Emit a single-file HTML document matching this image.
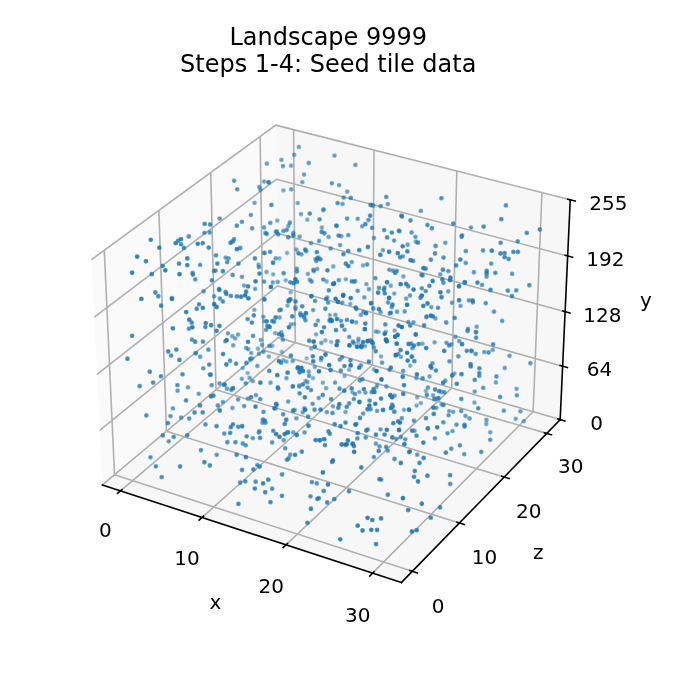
<!DOCTYPE html>
<html lang="en"><head><meta charset="utf-8"><title>Landscape 9999 - Steps 1-4: Seed tile data</title>
<style>
html,body{margin:0;padding:0;background:#fff}
body{width:676px;height:692px;overflow:hidden;position:relative;font-family:"DejaVu Sans","Liberation Sans",sans-serif}
svg{will-change:transform;position:absolute;left:0.0px;top:0.7px;display:block}
</style></head><body>
<svg width="676.8" height="691.2" viewBox="0 0 338.4 345.6"><defs><style>circle{r:0.7071px}*{stroke-linejoin: round; stroke-linecap: butt}</style></defs><g id="figure_1"><g id="patch_1"><path d="M 0 345.6 L 338.4 345.6 L 338.4 0 L 0 0 z " style="fill: #ffffff"/></g><g id="patch_2"><path d="M 31.104 307.584 L 297.216 307.584 L 297.216 41.472 L 31.104 41.472 z " style="fill: #ffffff"/></g><g id="pane3d_1"><g id="patch_3"><path d="M 51.197 241.969 L 139.076 168.307 L 137.854 62.073 L 45.770 129.272 " style="fill: #fafafa; stroke: #fafafa; stroke-linejoin: miter"/></g></g><g id="pane3d_2"><g id="patch_4"><path d="M 139.076 168.307 L 280.090 209.294 L 285.122 99.402 L 137.854 62.073 " style="fill: #f7f7f7; stroke: #f7f7f7; stroke-linejoin: miter"/></g></g><g id="pane3d_3"><g id="patch_5"><path d="M 51.197 241.969 L 200.679 290.790 L 280.090 209.294 L 139.076 168.307 " style="fill: #f7f7f7; stroke: #f7f7f7; stroke-linejoin: miter"/></g></g><g id="grid3d_1"><g id="Line3DCollection_1"><path d="M 60.250 244.926 L 147.652 170.800 L 146.793 64.339 " style="fill: none; stroke: #b0b0b0; stroke-width: 0.8"/><path d="M 101.025 258.243 L 186.220 182.010 L 187.020 74.536 " style="fill: none; stroke: #b0b0b0; stroke-width: 0.8"/><path d="M 143.019 271.958 L 225.844 193.527 L 228.397 85.023 " style="fill: none; stroke: #b0b0b0; stroke-width: 0.8"/><path d="M 186.286 286.089 L 266.567 205.364 L 270.973 95.815 " style="fill: none; stroke: #b0b0b0; stroke-width: 0.8"/></g></g><g id="grid3d_2"><g id="Line3DCollection_2"><path d="M 52.138 124.625 L 57.252 236.893 L 206.173 285.151 " style="fill: none; stroke: #b0b0b0; stroke-width: 0.8"/><path d="M 79.431 104.708 L 83.244 215.106 L 229.719 260.987 " style="fill: none; stroke: #b0b0b0; stroke-width: 0.8"/><path d="M 105.373 85.777 L 108.002 194.354 L 252.090 238.029 " style="fill: none; stroke: #b0b0b0; stroke-width: 0.8"/><path d="M 130.061 67.761 L 131.612 174.563 L 273.373 216.187 " style="fill: none; stroke: #b0b0b0; stroke-width: 0.8"/></g></g><g id="grid3d_3"><g id="Line3DCollection_3"><path d="M 280.090 209.294 L 139.076 168.307 L 51.197 241.969 " style="fill: none; stroke: #b0b0b0; stroke-width: 0.8"/><path d="M 281.312 182.609 L 138.779 142.469 L 49.881 214.637 " style="fill: none; stroke: #b0b0b0; stroke-width: 0.8"/><path d="M 282.561 155.336 L 138.475 116.090 L 48.534 186.682 " style="fill: none; stroke: #b0b0b0; stroke-width: 0.8"/><path d="M 283.837 127.457 L 138.165 89.152 L 47.157 158.080 " style="fill: none; stroke: #b0b0b0; stroke-width: 0.8"/><path d="M 285.122 99.402 L 137.854 62.073 L 45.770 129.272 " style="fill: none; stroke: #b0b0b0; stroke-width: 0.8"/></g></g><g id="axis3d_1"><g id="line2d_1"><path d="M 51.197 241.969 L 200.679 290.790 " style="fill: none; stroke: #000000; stroke-width: 0.8; stroke-linecap: square"/></g><g id="xtick_1"><g id="line2d_2"><path d="M 61.011 244.280 L 58.725 246.219 " style="fill: none; stroke: #000000; stroke-width: 0.8; stroke-linecap: square"/></g><g id="text_1"><text style="font-size: 10px; font-family: 'DejaVu Sans', 'Liberation Sans', sans-serif; text-anchor: middle" x="52.721" y="268.235">0</text></g></g><g id="xtick_2"><g id="line2d_3"><path d="M 101.768 257.578 L 99.536 259.575 " style="fill: none; stroke: #000000; stroke-width: 0.8; stroke-linecap: square"/></g><g id="text_2"><text style="font-size: 10px; font-family: 'DejaVu Sans', 'Liberation Sans', sans-serif; text-anchor: middle" x="93.539" y="281.834">10</text></g></g><g id="xtick_3"><g id="line2d_4"><path d="M 143.742 271.273 L 141.570 273.330 " style="fill: none; stroke: #000000; stroke-width: 0.8; stroke-linecap: square"/></g><g id="text_3"><text style="font-size: 10px; font-family: 'DejaVu Sans', 'Liberation Sans', sans-serif; text-anchor: middle" x="135.581" y="295.842">20</text></g></g><g id="xtick_4"><g id="line2d_5"><path d="M 186.988 285.384 L 184.880 287.503 " style="fill: none; stroke: #000000; stroke-width: 0.8; stroke-linecap: square"/></g><g id="text_4"><text style="font-size: 10px; font-family: 'DejaVu Sans', 'Liberation Sans', sans-serif; text-anchor: middle" x="178.903" y="310.276">30</text></g></g><g id="text_5"><text style="font-size: 10px; font-family: 'DejaVu Sans', 'Liberation Sans', sans-serif; text-anchor: middle" x="107.676" y="303.767">x</text></g></g><g id="axis3d_2"><g id="line2d_6"><path d="M 280.090 209.294 L 200.679 290.790 " style="fill: none; stroke: #000000; stroke-width: 0.8; stroke-linecap: square"/></g><g id="xtick_5"><g id="line2d_7"><path d="M 204.918 284.744 L 208.687 285.965 " style="fill: none; stroke: #000000; stroke-width: 0.8; stroke-linecap: square"/></g><g id="text_6"><text style="font-size: 10px; font-family: 'DejaVu Sans', 'Liberation Sans', sans-serif; text-anchor: middle" x="219.054" y="306.173">0</text></g></g><g id="xtick_6"><g id="line2d_8"><path d="M 228.486 260.601 L 232.188 261.760 " style="fill: none; stroke: #000000; stroke-width: 0.8; stroke-linecap: square"/></g><g id="text_7"><text style="font-size: 10px; font-family: 'DejaVu Sans', 'Liberation Sans', sans-serif; text-anchor: middle" x="242.284" y="281.651">10</text></g></g><g id="xtick_7"><g id="line2d_9"><path d="M 250.879 237.661 L 254.516 238.764 " style="fill: none; stroke: #000000; stroke-width: 0.8; stroke-linecap: square"/></g><g id="text_8"><text style="font-size: 10px; font-family: 'DejaVu Sans', 'Liberation Sans', sans-serif; text-anchor: middle" x="264.354" y="258.354">20</text></g></g><g id="xtick_8"><g id="line2d_10"><path d="M 272.183 215.838 L 275.756 216.887 " style="fill: none; stroke: #000000; stroke-width: 0.8; stroke-linecap: square"/></g><g id="text_9"><text style="font-size: 10px; font-family: 'DejaVu Sans', 'Liberation Sans', sans-serif; text-anchor: middle" x="285.350" y="236.190">30</text></g></g><g id="text_10"><text style="font-size: 10px; font-family: 'DejaVu Sans', 'Liberation Sans', sans-serif; text-anchor: middle" x="269.132" y="278.988">z</text></g></g><g id="axis3d_3"><g id="line2d_11"><path d="M 280.090 209.294 L 285.122 99.402 " style="fill: none; stroke: #000000; stroke-width: 0.8; stroke-linecap: square"/></g><g id="xtick_9"><g id="line2d_12"><path d="M 278.906 208.950 L 282.460 209.983 " style="fill: none; stroke: #000000; stroke-width: 0.8; stroke-linecap: square"/></g><g id="text_11"><text style="font-size: 10px; font-family: 'DejaVu Sans', 'Liberation Sans', sans-serif; text-anchor: middle" x="298.339" y="214.288">0</text></g></g><g id="xtick_10"><g id="line2d_13"><path d="M 280.115 182.272 L 283.708 183.284 " style="fill: none; stroke: #000000; stroke-width: 0.8; stroke-linecap: square"/></g><g id="text_12"><text style="font-size: 10px; font-family: 'DejaVu Sans', 'Liberation Sans', sans-serif; text-anchor: middle" x="299.755" y="187.655">64</text></g></g><g id="xtick_11"><g id="line2d_14"><path d="M 281.350 155.007 L 284.985 155.997 " style="fill: none; stroke: #000000; stroke-width: 0.8; stroke-linecap: square"/></g><g id="text_13"><text style="font-size: 10px; font-family: 'DejaVu Sans', 'Liberation Sans', sans-serif; text-anchor: middle" x="301.202" y="160.438">128</text></g></g><g id="xtick_12"><g id="line2d_15"><path d="M 282.613 127.135 L 286.289 128.102 " style="fill: none; stroke: #000000; stroke-width: 0.8; stroke-linecap: square"/></g><g id="text_14"><text style="font-size: 10px; font-family: 'DejaVu Sans', 'Liberation Sans', sans-serif; text-anchor: middle" x="302.681" y="132.618">192</text></g></g><g id="xtick_13"><g id="line2d_16"><path d="M 283.884 99.088 L 287.602 100.030 " style="fill: none; stroke: #000000; stroke-width: 0.8; stroke-linecap: square"/></g><g id="text_15"><text style="font-size: 10px; font-family: 'DejaVu Sans', 'Liberation Sans', sans-serif; text-anchor: middle" x="304.170" y="104.623">255</text></g></g><g id="text_16"><text style="font-size: 10px; font-family: 'DejaVu Sans', 'Liberation Sans', sans-serif; text-anchor: middle" x="322.927" y="152.902">y</text></g></g><g id="axes_1"><g id="pts" fill="#1f77b4" stroke="#1f77b4" stroke-width="1"><circle cx="155.57" cy="173.91" r=".707" fill-opacity="0.35" stroke-opacity="0.35"/><circle cx="153.31" cy="178.72" r=".707" fill-opacity="0.355" stroke-opacity="0.355"/><circle cx="165.61" cy="170.55" r=".707" fill-opacity="0.357" stroke-opacity="0.357"/><circle cx="137.68" cy="158.32" r=".707" fill-opacity="0.358" stroke-opacity="0.358"/><circle cx="140.90" cy="175.50" r=".707" fill-opacity="0.37" stroke-opacity="0.37"/><circle cx="156.54" cy="188.64" r=".707" fill-opacity="0.378" stroke-opacity="0.378"/><circle cx="146.99" cy="161.54" r=".707" fill-opacity="0.386" stroke-opacity="0.386"/><circle cx="126.11" cy="178.73" r=".707" fill-opacity="0.387" stroke-opacity="0.387"/><circle cx="123.83" cy="186.04" r=".707" fill-opacity="0.388" stroke-opacity="0.388"/><circle cx="186.92" cy="184.26" r=".707" fill-opacity="0.39" stroke-opacity="0.39"/><circle cx="145.30" cy="145.68" r=".707" fill-opacity="0.392" stroke-opacity="0.392"/><circle cx="139.70" cy="128.69" r=".707" fill-opacity="0.392" stroke-opacity="0.392"/><circle cx="168.92" cy="170.18" r=".707" fill-opacity="0.396" stroke-opacity="0.396"/><circle cx="179.08" cy="170.48" r=".707" fill-opacity="0.397" stroke-opacity="0.397"/><circle cx="188.63" cy="191.93" r=".707" fill-opacity="0.398" stroke-opacity="0.398"/><circle cx="160.42" cy="179.57" r=".707" fill-opacity="0.399" stroke-opacity="0.399"/><circle cx="136.15" cy="172.47" r=".707" fill-opacity="0.399" stroke-opacity="0.399"/><circle cx="174.53" cy="184.32" r=".707" fill-opacity="0.4" stroke-opacity="0.4"/><circle cx="162.69" cy="169.77" r=".707" fill-opacity="0.402" stroke-opacity="0.402"/><circle cx="176.20" cy="195.69" r=".707" fill-opacity="0.402" stroke-opacity="0.402"/><circle cx="143.56" cy="125.99" r=".707" fill-opacity="0.403" stroke-opacity="0.403"/><circle cx="212.97" cy="194.95" r=".707" fill-opacity="0.404" stroke-opacity="0.404"/><circle cx="121.36" cy="183.54" r=".707" fill-opacity="0.405" stroke-opacity="0.405"/><circle cx="157.67" cy="129.04" r=".707" fill-opacity="0.407" stroke-opacity="0.407"/><circle cx="189.29" cy="165.42" r=".707" fill-opacity="0.407" stroke-opacity="0.407"/><circle cx="172.26" cy="187.56" r=".707" fill-opacity="0.408" stroke-opacity="0.408"/><circle cx="149.60" cy="192.23" r=".707" fill-opacity="0.409" stroke-opacity="0.409"/><circle cx="205.12" cy="182.38" r=".707" fill-opacity="0.409" stroke-opacity="0.409"/><circle cx="164.97" cy="157.05" r=".707" fill-opacity="0.409" stroke-opacity="0.409"/><circle cx="132.09" cy="160.17" r=".707" fill-opacity="0.411" stroke-opacity="0.411"/><circle cx="142.89" cy="139.66" r=".707" fill-opacity="0.413" stroke-opacity="0.413"/><circle cx="141.65" cy="179.64" r=".707" fill-opacity="0.414" stroke-opacity="0.414"/><circle cx="163.29" cy="140.25" r=".707" fill-opacity="0.416" stroke-opacity="0.416"/><circle cx="125.16" cy="179.35" r=".707" fill-opacity="0.418" stroke-opacity="0.418"/><circle cx="175.18" cy="151.52" r=".707" fill-opacity="0.42" stroke-opacity="0.42"/><circle cx="197.31" cy="164.79" r=".707" fill-opacity="0.423" stroke-opacity="0.423"/><circle cx="136.56" cy="136.69" r=".707" fill-opacity="0.423" stroke-opacity="0.423"/><circle cx="208.61" cy="198.21" r=".707" fill-opacity="0.424" stroke-opacity="0.424"/><circle cx="159.30" cy="128.22" r=".707" fill-opacity="0.428" stroke-opacity="0.428"/><circle cx="188.18" cy="193.06" r=".707" fill-opacity="0.428" stroke-opacity="0.428"/><circle cx="139.88" cy="158.27" r=".707" fill-opacity="0.428" stroke-opacity="0.428"/><circle cx="137.58" cy="166.07" r=".707" fill-opacity="0.429" stroke-opacity="0.429"/><circle cx="157.00" cy="135.17" r=".707" fill-opacity="0.429" stroke-opacity="0.429"/><circle cx="153.64" cy="109.37" r=".707" fill-opacity="0.43" stroke-opacity="0.43"/><circle cx="158.06" cy="166.68" r=".707" fill-opacity="0.432" stroke-opacity="0.432"/><circle cx="141.70" cy="94.69" r=".707" fill-opacity="0.432" stroke-opacity="0.432"/><circle cx="161.42" cy="190.82" r=".707" fill-opacity="0.433" stroke-opacity="0.433"/><circle cx="143.21" cy="180.32" r=".707" fill-opacity="0.433" stroke-opacity="0.433"/><circle cx="182.54" cy="172.60" r=".707" fill-opacity="0.433" stroke-opacity="0.433"/><circle cx="128.97" cy="173.88" r=".707" fill-opacity="0.434" stroke-opacity="0.434"/><circle cx="157.43" cy="183.04" r=".707" fill-opacity="0.438" stroke-opacity="0.438"/><circle cx="210.46" cy="201.05" r=".707" fill-opacity="0.439" stroke-opacity="0.439"/><circle cx="190.54" cy="177.81" r=".707" fill-opacity="0.44" stroke-opacity="0.44"/><circle cx="220.74" cy="201.78" r=".707" fill-opacity="0.44" stroke-opacity="0.44"/><circle cx="179.66" cy="195.56" r=".707" fill-opacity="0.442" stroke-opacity="0.442"/><circle cx="181.52" cy="132.21" r=".707" fill-opacity="0.445" stroke-opacity="0.445"/><circle cx="127.17" cy="154.48" r=".707" fill-opacity="0.445" stroke-opacity="0.445"/><circle cx="143.75" cy="152.28" r=".707" fill-opacity="0.445" stroke-opacity="0.445"/><circle cx="192.88" cy="165.40" r=".707" fill-opacity="0.447" stroke-opacity="0.447"/><circle cx="163.08" cy="193.64" r=".707" fill-opacity="0.449" stroke-opacity="0.449"/><circle cx="183.22" cy="141.58" r=".707" fill-opacity="0.45" stroke-opacity="0.45"/><circle cx="208.27" cy="202.29" r=".707" fill-opacity="0.45" stroke-opacity="0.45"/><circle cx="145.41" cy="161.67" r=".707" fill-opacity="0.45" stroke-opacity="0.45"/><circle cx="158.63" cy="133.95" r=".707" fill-opacity="0.451" stroke-opacity="0.451"/><circle cx="147.71" cy="152.99" r=".707" fill-opacity="0.451" stroke-opacity="0.451"/><circle cx="172.93" cy="139.17" r=".707" fill-opacity="0.452" stroke-opacity="0.452"/><circle cx="161.56" cy="104.66" r=".707" fill-opacity="0.452" stroke-opacity="0.452"/><circle cx="151.71" cy="157.06" r=".707" fill-opacity="0.452" stroke-opacity="0.452"/><circle cx="201.98" cy="204.41" r=".707" fill-opacity="0.452" stroke-opacity="0.452"/><circle cx="138.64" cy="109.79" r=".707" fill-opacity="0.452" stroke-opacity="0.452"/><circle cx="152.77" cy="190.01" r=".707" fill-opacity="0.452" stroke-opacity="0.452"/><circle cx="211.24" cy="171.35" r=".707" fill-opacity="0.454" stroke-opacity="0.454"/><circle cx="137.84" cy="203.73" r=".707" fill-opacity="0.454" stroke-opacity="0.454"/><circle cx="116.15" cy="167.64" r=".707" fill-opacity="0.455" stroke-opacity="0.455"/><circle cx="134.45" cy="177.79" r=".707" fill-opacity="0.455" stroke-opacity="0.455"/><circle cx="176.94" cy="140.28" r=".707" fill-opacity="0.457" stroke-opacity="0.457"/><circle cx="145.53" cy="82.37" r=".707" fill-opacity="0.458" stroke-opacity="0.458"/><circle cx="124.10" cy="174.14" r=".707" fill-opacity="0.459" stroke-opacity="0.459"/><circle cx="130.40" cy="169.52" r=".707" fill-opacity="0.461" stroke-opacity="0.461"/><circle cx="225.67" cy="171.57" r=".707" fill-opacity="0.463" stroke-opacity="0.463"/><circle cx="152.11" cy="203.61" r=".707" fill-opacity="0.464" stroke-opacity="0.464"/><circle cx="148.27" cy="124.30" r=".707" fill-opacity="0.464" stroke-opacity="0.464"/><circle cx="172.78" cy="205.49" r=".707" fill-opacity="0.465" stroke-opacity="0.465"/><circle cx="166.62" cy="132.76" r=".707" fill-opacity="0.467" stroke-opacity="0.467"/><circle cx="148.87" cy="101.06" r=".707" fill-opacity="0.468" stroke-opacity="0.468"/><circle cx="261.87" cy="210.09" r=".707" fill-opacity="0.468" stroke-opacity="0.468"/><circle cx="129.26" cy="131.83" r=".707" fill-opacity="0.468" stroke-opacity="0.468"/><circle cx="214.78" cy="187.75" r=".707" fill-opacity="0.468" stroke-opacity="0.468"/><circle cx="217.73" cy="158.77" r=".707" fill-opacity="0.468" stroke-opacity="0.468"/><circle cx="140.67" cy="165.64" r=".707" fill-opacity="0.469" stroke-opacity="0.469"/><circle cx="133.26" cy="135.49" r=".707" fill-opacity="0.469" stroke-opacity="0.469"/><circle cx="195.35" cy="142.38" r=".707" fill-opacity="0.47" stroke-opacity="0.47"/><circle cx="160.91" cy="113.30" r=".707" fill-opacity="0.47" stroke-opacity="0.47"/><circle cx="180.37" cy="157.00" r=".707" fill-opacity="0.471" stroke-opacity="0.471"/><circle cx="237.23" cy="200.79" r=".707" fill-opacity="0.471" stroke-opacity="0.471"/><circle cx="151.17" cy="90.59" r=".707" fill-opacity="0.471" stroke-opacity="0.471"/><circle cx="153.94" cy="136.51" r=".707" fill-opacity="0.472" stroke-opacity="0.472"/><circle cx="201.70" cy="137.74" r=".707" fill-opacity="0.472" stroke-opacity="0.472"/><circle cx="216.54" cy="197.24" r=".707" fill-opacity="0.473" stroke-opacity="0.473"/><circle cx="117.60" cy="168.70" r=".707" fill-opacity="0.473" stroke-opacity="0.473"/><circle cx="146.35" cy="180.04" r=".707" fill-opacity="0.474" stroke-opacity="0.474"/><circle cx="200.48" cy="177.91" r=".707" fill-opacity="0.474" stroke-opacity="0.474"/><circle cx="166.45" cy="202.65" r=".707" fill-opacity="0.475" stroke-opacity="0.475"/><circle cx="134.45" cy="90.64" r=".707" fill-opacity="0.475" stroke-opacity="0.475"/><circle cx="144.19" cy="112.51" r=".707" fill-opacity="0.475" stroke-opacity="0.475"/><circle cx="224.61" cy="205.04" r=".707" fill-opacity="0.475" stroke-opacity="0.475"/><circle cx="137.85" cy="115.45" r=".707" fill-opacity="0.476" stroke-opacity="0.476"/><circle cx="125.61" cy="176.06" r=".707" fill-opacity="0.476" stroke-opacity="0.476"/><circle cx="178.06" cy="160.67" r=".707" fill-opacity="0.477" stroke-opacity="0.477"/><circle cx="150.52" cy="106.56" r=".707" fill-opacity="0.479" stroke-opacity="0.479"/><circle cx="149.44" cy="72.96" r=".707" fill-opacity="0.479" stroke-opacity="0.479"/><circle cx="154.37" cy="185.32" r=".707" fill-opacity="0.48" stroke-opacity="0.48"/><circle cx="194.80" cy="156.33" r=".707" fill-opacity="0.481" stroke-opacity="0.481"/><circle cx="120.90" cy="188.93" r=".707" fill-opacity="0.481" stroke-opacity="0.481"/><circle cx="167.70" cy="156.98" r=".707" fill-opacity="0.481" stroke-opacity="0.481"/><circle cx="243.15" cy="211.52" r=".707" fill-opacity="0.482" stroke-opacity="0.482"/><circle cx="217.28" cy="170.65" r=".707" fill-opacity="0.482" stroke-opacity="0.482"/><circle cx="129.56" cy="176.39" r=".707" fill-opacity="0.483" stroke-opacity="0.483"/><circle cx="220.70" cy="195.52" r=".707" fill-opacity="0.483" stroke-opacity="0.483"/><circle cx="116.22" cy="203.50" r=".707" fill-opacity="0.484" stroke-opacity="0.484"/><circle cx="197.15" cy="146.30" r=".707" fill-opacity="0.484" stroke-opacity="0.484"/><circle cx="147.08" cy="76.93" r=".707" fill-opacity="0.485" stroke-opacity="0.485"/><circle cx="169.57" cy="92.10" r=".707" fill-opacity="0.485" stroke-opacity="0.485"/><circle cx="258.28" cy="193.94" r=".707" fill-opacity="0.486" stroke-opacity="0.486"/><circle cx="140.71" cy="79.43" r=".707" fill-opacity="0.487" stroke-opacity="0.487"/><circle cx="173.60" cy="95.33" r=".707" fill-opacity="0.488" stroke-opacity="0.488"/><circle cx="135.26" cy="190.86" r=".707" fill-opacity="0.488" stroke-opacity="0.488"/><circle cx="132.02" cy="90.29" r=".707" fill-opacity="0.488" stroke-opacity="0.488"/><circle cx="163.66" cy="148.21" r=".707" fill-opacity="0.488" stroke-opacity="0.488"/><circle cx="147.36" cy="204.47" r=".707" fill-opacity="0.488" stroke-opacity="0.488"/><circle cx="227.76" cy="168.01" r=".707" fill-opacity="0.489" stroke-opacity="0.489"/><circle cx="138.83" cy="140.51" r=".707" fill-opacity="0.489" stroke-opacity="0.489"/><circle cx="122.06" cy="142.31" r=".707" fill-opacity="0.489" stroke-opacity="0.489"/><circle cx="124.84" cy="188.45" r=".707" fill-opacity="0.489" stroke-opacity="0.489"/><circle cx="247.95" cy="190.70" r=".707" fill-opacity="0.489" stroke-opacity="0.489"/><circle cx="215.67" cy="153.13" r=".707" fill-opacity="0.49" stroke-opacity="0.49"/><circle cx="171.27" cy="101.51" r=".707" fill-opacity="0.49" stroke-opacity="0.49"/><circle cx="191.46" cy="124.62" r=".707" fill-opacity="0.491" stroke-opacity="0.491"/><circle cx="218.47" cy="198.86" r=".707" fill-opacity="0.491" stroke-opacity="0.491"/><circle cx="227.19" cy="186.29" r=".707" fill-opacity="0.493" stroke-opacity="0.493"/><circle cx="123.10" cy="173.46" r=".707" fill-opacity="0.493" stroke-opacity="0.493"/><circle cx="149.83" cy="117.85" r=".707" fill-opacity="0.494" stroke-opacity="0.494"/><circle cx="151.37" cy="205.68" r=".707" fill-opacity="0.494" stroke-opacity="0.494"/><circle cx="149.66" cy="192.79" r=".707" fill-opacity="0.494" stroke-opacity="0.494"/><circle cx="112.03" cy="191.87" r=".707" fill-opacity="0.495" stroke-opacity="0.495"/><circle cx="158.99" cy="159.80" r=".707" fill-opacity="0.495" stroke-opacity="0.495"/><circle cx="246.36" cy="174.45" r=".707" fill-opacity="0.495" stroke-opacity="0.495"/><circle cx="226.61" cy="205.44" r=".707" fill-opacity="0.495" stroke-opacity="0.495"/><circle cx="213.41" cy="157.66" r=".707" fill-opacity="0.496" stroke-opacity="0.496"/><circle cx="257.87" cy="208.92" r=".707" fill-opacity="0.496" stroke-opacity="0.496"/><circle cx="245.12" cy="215.69" r=".707" fill-opacity="0.496" stroke-opacity="0.496"/><circle cx="129.61" cy="92.98" r=".707" fill-opacity="0.496" stroke-opacity="0.496"/><circle cx="127.27" cy="100.91" r=".707" fill-opacity="0.496" stroke-opacity="0.496"/><circle cx="119.02" cy="166.81" r=".707" fill-opacity="0.496" stroke-opacity="0.496"/><circle cx="112.64" cy="170.20" r=".707" fill-opacity="0.496" stroke-opacity="0.496"/><circle cx="160.69" cy="171.01" r=".707" fill-opacity="0.498" stroke-opacity="0.498"/><circle cx="170.66" cy="117.58" r=".707" fill-opacity="0.498" stroke-opacity="0.498"/><circle cx="184.50" cy="144.12" r=".707" fill-opacity="0.498" stroke-opacity="0.498"/><circle cx="238.34" cy="162.82" r=".707" fill-opacity="0.499" stroke-opacity="0.499"/><circle cx="185.75" cy="102.00" r=".707" fill-opacity="0.499" stroke-opacity="0.499"/><circle cx="131.74" cy="157.91" r=".707" fill-opacity="0.5" stroke-opacity="0.5"/><circle cx="230.27" cy="152.45" r=".707" fill-opacity="0.5" stroke-opacity="0.5"/><circle cx="116.63" cy="172.21" r=".707" fill-opacity="0.501" stroke-opacity="0.501"/><circle cx="136.40" cy="140.75" r=".707" fill-opacity="0.501" stroke-opacity="0.501"/><circle cx="144.49" cy="149.42" r=".707" fill-opacity="0.502" stroke-opacity="0.502"/><circle cx="164.27" cy="117.94" r=".707" fill-opacity="0.503" stroke-opacity="0.503"/><circle cx="146.65" cy="215.74" r=".707" fill-opacity="0.504" stroke-opacity="0.504"/><circle cx="182.19" cy="148.22" r=".707" fill-opacity="0.505" stroke-opacity="0.505"/><circle cx="153.66" cy="190.64" r=".707" fill-opacity="0.505" stroke-opacity="0.505"/><circle cx="187.95" cy="165.28" r=".707" fill-opacity="0.505" stroke-opacity="0.505"/><circle cx="208.21" cy="188.49" r=".707" fill-opacity="0.506" stroke-opacity="0.506"/><circle cx="143.21" cy="188.63" r=".707" fill-opacity="0.506" stroke-opacity="0.506"/><circle cx="124.03" cy="198.83" r=".707" fill-opacity="0.506" stroke-opacity="0.506"/><circle cx="128.71" cy="182.49" r=".707" fill-opacity="0.507" stroke-opacity="0.507"/><circle cx="126.36" cy="190.03" r=".707" fill-opacity="0.508" stroke-opacity="0.508"/><circle cx="181.11" cy="112.68" r=".707" fill-opacity="0.508" stroke-opacity="0.508"/><circle cx="203.09" cy="148.83" r=".707" fill-opacity="0.508" stroke-opacity="0.508"/><circle cx="190.31" cy="155.63" r=".707" fill-opacity="0.508" stroke-opacity="0.508"/><circle cx="129.78" cy="215.07" r=".707" fill-opacity="0.508" stroke-opacity="0.508"/><circle cx="105.45" cy="186.87" r=".707" fill-opacity="0.509" stroke-opacity="0.509"/><circle cx="252.39" cy="183.49" r=".707" fill-opacity="0.509" stroke-opacity="0.509"/><circle cx="131.01" cy="172.00" r=".707" fill-opacity="0.51" stroke-opacity="0.51"/><circle cx="113.51" cy="193.89" r=".707" fill-opacity="0.512" stroke-opacity="0.512"/><circle cx="226.25" cy="215.07" r=".707" fill-opacity="0.514" stroke-opacity="0.514"/><circle cx="237.35" cy="195.31" r=".707" fill-opacity="0.514" stroke-opacity="0.514"/><circle cx="193.94" cy="101.53" r=".707" fill-opacity="0.514" stroke-opacity="0.514"/><circle cx="127.55" cy="143.96" r=".707" fill-opacity="0.514" stroke-opacity="0.514"/><circle cx="177.70" cy="81.97" r=".707" fill-opacity="0.516" stroke-opacity="0.516"/><circle cx="155.51" cy="121.08" r=".707" fill-opacity="0.516" stroke-opacity="0.516"/><circle cx="182.69" cy="195.79" r=".707" fill-opacity="0.516" stroke-opacity="0.516"/><circle cx="156.59" cy="154.56" r=".707" fill-opacity="0.516" stroke-opacity="0.516"/><circle cx="141.43" cy="169.35" r=".707" fill-opacity="0.517" stroke-opacity="0.517"/><circle cx="163.46" cy="205.58" r=".707" fill-opacity="0.517" stroke-opacity="0.517"/><circle cx="127.98" cy="197.10" r=".707" fill-opacity="0.517" stroke-opacity="0.517"/><circle cx="203.81" cy="121.89" r=".707" fill-opacity="0.517" stroke-opacity="0.517"/><circle cx="218.18" cy="203.43" r=".707" fill-opacity="0.517" stroke-opacity="0.517"/><circle cx="224.13" cy="145.16" r=".707" fill-opacity="0.517" stroke-opacity="0.517"/><circle cx="179.26" cy="169.00" r=".707" fill-opacity="0.518" stroke-opacity="0.518"/><circle cx="168.32" cy="112.54" r=".707" fill-opacity="0.519" stroke-opacity="0.519"/><circle cx="150.17" cy="156.26" r=".707" fill-opacity="0.519" stroke-opacity="0.519"/><circle cx="243.22" cy="209.49" r=".707" fill-opacity="0.519" stroke-opacity="0.519"/><circle cx="242.14" cy="175.56" r=".707" fill-opacity="0.519" stroke-opacity="0.519"/><circle cx="139.69" cy="154.67" r=".707" fill-opacity="0.52" stroke-opacity="0.52"/><circle cx="154.87" cy="139.44" r=".707" fill-opacity="0.52" stroke-opacity="0.52"/><circle cx="232.77" cy="207.49" r=".707" fill-opacity="0.52" stroke-opacity="0.52"/><circle cx="199.77" cy="115.15" r=".707" fill-opacity="0.52" stroke-opacity="0.52"/><circle cx="159.39" cy="198.49" r=".707" fill-opacity="0.521" stroke-opacity="0.521"/><circle cx="201.49" cy="127.70" r=".707" fill-opacity="0.521" stroke-opacity="0.521"/><circle cx="167.23" cy="77.28" r=".707" fill-opacity="0.521" stroke-opacity="0.521"/><circle cx="133.43" cy="81.34" r=".707" fill-opacity="0.521" stroke-opacity="0.521"/><circle cx="153.14" cy="125.16" r=".707" fill-opacity="0.522" stroke-opacity="0.522"/><circle cx="260.20" cy="205.16" r=".707" fill-opacity="0.523" stroke-opacity="0.523"/><circle cx="164.72" cy="159.86" r=".707" fill-opacity="0.523" stroke-opacity="0.523"/><circle cx="193.20" cy="192.74" r=".707" fill-opacity="0.523" stroke-opacity="0.523"/><circle cx="198.53" cy="155.37" r=".707" fill-opacity="0.523" stroke-opacity="0.523"/><circle cx="197.27" cy="197.32" r=".707" fill-opacity="0.523" stroke-opacity="0.523"/><circle cx="113.99" cy="166.17" r=".707" fill-opacity="0.523" stroke-opacity="0.523"/><circle cx="145.62" cy="94.17" r=".707" fill-opacity="0.523" stroke-opacity="0.523"/><circle cx="220.14" cy="136.72" r=".707" fill-opacity="0.523" stroke-opacity="0.523"/><circle cx="170.04" cy="122.05" r=".707" fill-opacity="0.524" stroke-opacity="0.524"/><circle cx="141.84" cy="219.62" r=".707" fill-opacity="0.524" stroke-opacity="0.524"/><circle cx="159.55" cy="120.02" r=".707" fill-opacity="0.525" stroke-opacity="0.525"/><circle cx="235.83" cy="175.15" r=".707" fill-opacity="0.526" stroke-opacity="0.526"/><circle cx="154.39" cy="81.02" r=".707" fill-opacity="0.526" stroke-opacity="0.526"/><circle cx="186.97" cy="118.50" r=".707" fill-opacity="0.526" stroke-opacity="0.526"/><circle cx="178.82" cy="108.91" r=".707" fill-opacity="0.526" stroke-opacity="0.526"/><circle cx="181.64" cy="155.47" r=".707" fill-opacity="0.526" stroke-opacity="0.526"/><circle cx="207.97" cy="120.39" r=".707" fill-opacity="0.527" stroke-opacity="0.527"/><circle cx="176.93" cy="171.04" r=".707" fill-opacity="0.528" stroke-opacity="0.528"/><circle cx="213.15" cy="158.12" r=".707" fill-opacity="0.528" stroke-opacity="0.528"/><circle cx="226.01" cy="150.86" r=".707" fill-opacity="0.529" stroke-opacity="0.529"/><circle cx="169.42" cy="139.58" r=".707" fill-opacity="0.529" stroke-opacity="0.529"/><circle cx="120.97" cy="137.91" r=".707" fill-opacity="0.529" stroke-opacity="0.529"/><circle cx="152.02" cy="86.81" r=".707" fill-opacity="0.529" stroke-opacity="0.529"/><circle cx="188.54" cy="204.95" r=".707" fill-opacity="0.53" stroke-opacity="0.53"/><circle cx="206.74" cy="160.68" r=".707" fill-opacity="0.53" stroke-opacity="0.53"/><circle cx="112.81" cy="128.31" r=".707" fill-opacity="0.53" stroke-opacity="0.53"/><circle cx="93.97" cy="193.17" r=".707" fill-opacity="0.53" stroke-opacity="0.53"/><circle cx="205.02" cy="147.24" r=".707" fill-opacity="0.531" stroke-opacity="0.531"/><circle cx="207.21" cy="214.87" r=".707" fill-opacity="0.531" stroke-opacity="0.531"/><circle cx="185.27" cy="102.00" r=".707" fill-opacity="0.532" stroke-opacity="0.532"/><circle cx="171.14" cy="150.88" r=".707" fill-opacity="0.532" stroke-opacity="0.532"/><circle cx="119.04" cy="199.25" r=".707" fill-opacity="0.532" stroke-opacity="0.532"/><circle cx="152.30" cy="215.77" r=".707" fill-opacity="0.532" stroke-opacity="0.532"/><circle cx="150.74" cy="126.66" r=".707" fill-opacity="0.533" stroke-opacity="0.533"/><circle cx="181.03" cy="172.21" r=".707" fill-opacity="0.533" stroke-opacity="0.533"/><circle cx="141.48" cy="82.56" r=".707" fill-opacity="0.534" stroke-opacity="0.534"/><circle cx="148.38" cy="133.80" r=".707" fill-opacity="0.534" stroke-opacity="0.534"/><circle cx="265.20" cy="181.14" r=".707" fill-opacity="0.535" stroke-opacity="0.535"/><circle cx="222.66" cy="120.93" r=".707" fill-opacity="0.536" stroke-opacity="0.536"/><circle cx="190.29" cy="214.19" r=".707" fill-opacity="0.536" stroke-opacity="0.536"/><circle cx="147.74" cy="153.97" r=".707" fill-opacity="0.536" stroke-opacity="0.536"/><circle cx="131.24" cy="210.92" r=".707" fill-opacity="0.536" stroke-opacity="0.536"/><circle cx="148.20" cy="208.67" r=".707" fill-opacity="0.536" stroke-opacity="0.536"/><circle cx="132.03" cy="113.27" r=".707" fill-opacity="0.537" stroke-opacity="0.537"/><circle cx="161.88" cy="104.17" r=".707" fill-opacity="0.537" stroke-opacity="0.537"/><circle cx="187.94" cy="221.37" r=".707" fill-opacity="0.537" stroke-opacity="0.537"/><circle cx="175.86" cy="130.54" r=".707" fill-opacity="0.538" stroke-opacity="0.538"/><circle cx="210.44" cy="104.98" r=".707" fill-opacity="0.538" stroke-opacity="0.538"/><circle cx="174.14" cy="117.07" r=".707" fill-opacity="0.539" stroke-opacity="0.539"/><circle cx="254.77" cy="177.42" r=".707" fill-opacity="0.539" stroke-opacity="0.539"/><circle cx="234.80" cy="208.75" r=".707" fill-opacity="0.539" stroke-opacity="0.539"/><circle cx="229.62" cy="170.06" r=".707" fill-opacity="0.539" stroke-opacity="0.539"/><circle cx="84.36" cy="220.18" r=".707" fill-opacity="0.54" stroke-opacity="0.54"/><circle cx="167.06" cy="141.12" r=".707" fill-opacity="0.54" stroke-opacity="0.54"/><circle cx="224.28" cy="207.16" r=".707" fill-opacity="0.54" stroke-opacity="0.54"/><circle cx="137.82" cy="128.73" r=".707" fill-opacity="0.541" stroke-opacity="0.541"/><circle cx="183.88" cy="214.26" r=".707" fill-opacity="0.541" stroke-opacity="0.541"/><circle cx="146.62" cy="115.97" r=".707" fill-opacity="0.542" stroke-opacity="0.542"/><circle cx="144.09" cy="200.28" r=".707" fill-opacity="0.542" stroke-opacity="0.542"/><circle cx="206.23" cy="173.60" r=".707" fill-opacity="0.543" stroke-opacity="0.543"/><circle cx="177.60" cy="140.13" r=".707" fill-opacity="0.543" stroke-opacity="0.543"/><circle cx="223.23" cy="170.92" r=".707" fill-opacity="0.544" stroke-opacity="0.544"/><circle cx="185.16" cy="169.55" r=".707" fill-opacity="0.545" stroke-opacity="0.545"/><circle cx="107.87" cy="134.80" r=".707" fill-opacity="0.545" stroke-opacity="0.545"/><circle cx="174.61" cy="167.95" r=".707" fill-opacity="0.546" stroke-opacity="0.546"/><circle cx="234.44" cy="149.71" r=".707" fill-opacity="0.546" stroke-opacity="0.546"/><circle cx="243.27" cy="137.82" r=".707" fill-opacity="0.546" stroke-opacity="0.546"/><circle cx="130.22" cy="94.51" r=".707" fill-opacity="0.546" stroke-opacity="0.546"/><circle cx="200.91" cy="208.64" r=".707" fill-opacity="0.547" stroke-opacity="0.547"/><circle cx="165.33" cy="123.72" r=".707" fill-opacity="0.547" stroke-opacity="0.547"/><circle cx="222.65" cy="189.88" r=".707" fill-opacity="0.547" stroke-opacity="0.547"/><circle cx="205.81" cy="115.77" r=".707" fill-opacity="0.547" stroke-opacity="0.547"/><circle cx="192.26" cy="143.30" r=".707" fill-opacity="0.548" stroke-opacity="0.548"/><circle cx="167.52" cy="190.78" r=".707" fill-opacity="0.549" stroke-opacity="0.549"/><circle cx="258.44" cy="197.16" r=".707" fill-opacity="0.549" stroke-opacity="0.549"/><circle cx="194.64" cy="134.40" r=".707" fill-opacity="0.549" stroke-opacity="0.549"/><circle cx="114.27" cy="128.76" r=".707" fill-opacity="0.549" stroke-opacity="0.549"/><circle cx="100.08" cy="177.86" r=".707" fill-opacity="0.55" stroke-opacity="0.55"/><circle cx="126.38" cy="218.58" r=".707" fill-opacity="0.551" stroke-opacity="0.551"/><circle cx="202.67" cy="219.18" r=".707" fill-opacity="0.551" stroke-opacity="0.551"/><circle cx="201.58" cy="184.99" r=".707" fill-opacity="0.551" stroke-opacity="0.551"/><circle cx="170.52" cy="159.92" r=".707" fill-opacity="0.551" stroke-opacity="0.551"/><circle cx="180.45" cy="182.21" r=".707" fill-opacity="0.551" stroke-opacity="0.551"/><circle cx="143.40" cy="215.90" r=".707" fill-opacity="0.551" stroke-opacity="0.551"/><circle cx="109.51" cy="143.97" r=".707" fill-opacity="0.551" stroke-opacity="0.551"/><circle cx="125.43" cy="107.06" r=".707" fill-opacity="0.552" stroke-opacity="0.552"/><circle cx="241.02" cy="141.96" r=".707" fill-opacity="0.553" stroke-opacity="0.553"/><circle cx="122.89" cy="191.16" r=".707" fill-opacity="0.553" stroke-opacity="0.553"/><circle cx="86.45" cy="203.73" r=".707" fill-opacity="0.553" stroke-opacity="0.553"/><circle cx="90.55" cy="208.34" r=".707" fill-opacity="0.553" stroke-opacity="0.553"/><circle cx="99.37" cy="196.43" r=".707" fill-opacity="0.554" stroke-opacity="0.554"/><circle cx="169.89" cy="179.33" r=".707" fill-opacity="0.554" stroke-opacity="0.554"/><circle cx="199.40" cy="114.83" r=".707" fill-opacity="0.554" stroke-opacity="0.554"/><circle cx="88.79" cy="194.83" r=".707" fill-opacity="0.554" stroke-opacity="0.554"/><circle cx="145.11" cy="226.89" r=".707" fill-opacity="0.555" stroke-opacity="0.555"/><circle cx="232.86" cy="131.00" r=".707" fill-opacity="0.555" stroke-opacity="0.555"/><circle cx="105.82" cy="192.14" r=".707" fill-opacity="0.555" stroke-opacity="0.555"/><circle cx="236.97" cy="135.61" r=".707" fill-opacity="0.555" stroke-opacity="0.555"/><circle cx="191.04" cy="180.83" r=".707" fill-opacity="0.556" stroke-opacity="0.556"/><circle cx="189.78" cy="222.70" r=".707" fill-opacity="0.556" stroke-opacity="0.556"/><circle cx="194.05" cy="150.77" r=".707" fill-opacity="0.557" stroke-opacity="0.557"/><circle cx="233.99" cy="163.95" r=".707" fill-opacity="0.557" stroke-opacity="0.557"/><circle cx="132.78" cy="210.94" r=".707" fill-opacity="0.557" stroke-opacity="0.557"/><circle cx="232.11" cy="226.57" r=".707" fill-opacity="0.558" stroke-opacity="0.558"/><circle cx="107.04" cy="147.70" r=".707" fill-opacity="0.559" stroke-opacity="0.559"/><circle cx="241.60" cy="193.48" r=".707" fill-opacity="0.559" stroke-opacity="0.559"/><circle cx="197.07" cy="119.81" r=".707" fill-opacity="0.559" stroke-opacity="0.559"/><circle cx="246.99" cy="155.34" r=".707" fill-opacity="0.56" stroke-opacity="0.56"/><circle cx="134.20" cy="90.73" r=".707" fill-opacity="0.56" stroke-opacity="0.56"/><circle cx="131.66" cy="175.40" r=".707" fill-opacity="0.56" stroke-opacity="0.56"/><circle cx="125.18" cy="178.84" r=".707" fill-opacity="0.56" stroke-opacity="0.56"/><circle cx="251.10" cy="159.96" r=".707" fill-opacity="0.56" stroke-opacity="0.56"/><circle cx="186.96" cy="173.22" r=".707" fill-opacity="0.56" stroke-opacity="0.56"/><circle cx="213.98" cy="193.30" r=".707" fill-opacity="0.561" stroke-opacity="0.561"/><circle cx="193.91" cy="224.80" r=".707" fill-opacity="0.561" stroke-opacity="0.561"/><circle cx="101.62" cy="183.69" r=".707" fill-opacity="0.561" stroke-opacity="0.561"/><circle cx="217.46" cy="218.67" r=".707" fill-opacity="0.561" stroke-opacity="0.561"/><circle cx="204.50" cy="225.56" r=".707" fill-opacity="0.562" stroke-opacity="0.562"/><circle cx="176.38" cy="170.32" r=".707" fill-opacity="0.563" stroke-opacity="0.563"/><circle cx="150.45" cy="184.10" r=".707" fill-opacity="0.563" stroke-opacity="0.563"/><circle cx="156.29" cy="201.42" r=".707" fill-opacity="0.564" stroke-opacity="0.564"/><circle cx="207.71" cy="117.92" r=".707" fill-opacity="0.564" stroke-opacity="0.564"/><circle cx="109.79" cy="191.23" r=".707" fill-opacity="0.564" stroke-opacity="0.564"/><circle cx="117.08" cy="89.89" r=".707" fill-opacity="0.565" stroke-opacity="0.565"/><circle cx="172.27" cy="164.41" r=".707" fill-opacity="0.565" stroke-opacity="0.565"/><circle cx="202.33" cy="155.25" r=".707" fill-opacity="0.565" stroke-opacity="0.565"/><circle cx="165.96" cy="91.15" r=".707" fill-opacity="0.565" stroke-opacity="0.565"/><circle cx="154.55" cy="187.45" r=".707" fill-opacity="0.565" stroke-opacity="0.565"/><circle cx="200.43" cy="217.99" r=".707" fill-opacity="0.566" stroke-opacity="0.566"/><circle cx="224.19" cy="135.10" r=".707" fill-opacity="0.567" stroke-opacity="0.567"/><circle cx="208.67" cy="226.82" r=".707" fill-opacity="0.567" stroke-opacity="0.567"/><circle cx="181.61" cy="206.28" r=".707" fill-opacity="0.568" stroke-opacity="0.568"/><circle cx="196.51" cy="134.88" r=".707" fill-opacity="0.569" stroke-opacity="0.569"/><circle cx="122.07" cy="202.56" r=".707" fill-opacity="0.569" stroke-opacity="0.569"/><circle cx="141.72" cy="114.98" r=".707" fill-opacity="0.57" stroke-opacity="0.57"/><circle cx="235.48" cy="113.31" r=".707" fill-opacity="0.57" stroke-opacity="0.57"/><circle cx="111.45" cy="200.53" r=".707" fill-opacity="0.57" stroke-opacity="0.57"/><circle cx="256.09" cy="136.45" r=".707" fill-opacity="0.571" stroke-opacity="0.571"/><circle cx="164.04" cy="150.83" r=".707" fill-opacity="0.571" stroke-opacity="0.571"/><circle cx="230.60" cy="205.01" r=".707" fill-opacity="0.573" stroke-opacity="0.573"/><circle cx="155.80" cy="140.27" r=".707" fill-opacity="0.573" stroke-opacity="0.573"/><circle cx="121.39" cy="221.25" r=".707" fill-opacity="0.573" stroke-opacity="0.573"/><circle cx="179.89" cy="189.74" r=".707" fill-opacity="0.574" stroke-opacity="0.574"/><circle cx="142.63" cy="223.61" r=".707" fill-opacity="0.574" stroke-opacity="0.574"/><circle cx="109.83" cy="108.81" r=".707" fill-opacity="0.574" stroke-opacity="0.574"/><circle cx="206.99" cy="209.89" r=".707" fill-opacity="0.574" stroke-opacity="0.574"/><circle cx="195.91" cy="153.07" r=".707" fill-opacity="0.574" stroke-opacity="0.574"/><circle cx="140.41" cy="154.39" r=".707" fill-opacity="0.575" stroke-opacity="0.575"/><circle cx="228.25" cy="211.83" r=".707" fill-opacity="0.575" stroke-opacity="0.575"/><circle cx="211.30" cy="137.20" r=".707" fill-opacity="0.575" stroke-opacity="0.575"/><circle cx="108.36" cy="226.90" r=".707" fill-opacity="0.576" stroke-opacity="0.576"/><circle cx="177.51" cy="196.55" r=".707" fill-opacity="0.576" stroke-opacity="0.576"/><circle cx="158.17" cy="130.00" r=".707" fill-opacity="0.576" stroke-opacity="0.576"/><circle cx="159.74" cy="219.65" r=".707" fill-opacity="0.577" stroke-opacity="0.577"/><circle cx="251.93" cy="204.82" r=".707" fill-opacity="0.577" stroke-opacity="0.577"/><circle cx="204.18" cy="160.61" r=".707" fill-opacity="0.577" stroke-opacity="0.577"/><circle cx="245.60" cy="131.34" r=".707" fill-opacity="0.577" stroke-opacity="0.577"/><circle cx="165.78" cy="160.09" r=".707" fill-opacity="0.578" stroke-opacity="0.578"/><circle cx="118.65" cy="94.17" r=".707" fill-opacity="0.578" stroke-opacity="0.578"/><circle cx="198.15" cy="218.90" r=".707" fill-opacity="0.578" stroke-opacity="0.578"/><circle cx="157.53" cy="149.95" r=".707" fill-opacity="0.579" stroke-opacity="0.579"/><circle cx="237.84" cy="176.45" r=".707" fill-opacity="0.579" stroke-opacity="0.579"/><circle cx="139.10" cy="193.90" r=".707" fill-opacity="0.58" stroke-opacity="0.58"/><circle cx="108.91" cy="202.24" r=".707" fill-opacity="0.581" stroke-opacity="0.581"/><circle cx="85.23" cy="207.56" r=".707" fill-opacity="0.582" stroke-opacity="0.582"/><circle cx="171.82" cy="98.28" r=".707" fill-opacity="0.582" stroke-opacity="0.582"/><circle cx="135.13" cy="110.94" r=".707" fill-opacity="0.582" stroke-opacity="0.582"/><circle cx="187.70" cy="138.57" r=".707" fill-opacity="0.582" stroke-opacity="0.582"/><circle cx="239.64" cy="187.48" r=".707" fill-opacity="0.582" stroke-opacity="0.582"/><circle cx="137.98" cy="158.15" r=".707" fill-opacity="0.582" stroke-opacity="0.582"/><circle cx="132.10" cy="140.33" r=".707" fill-opacity="0.582" stroke-opacity="0.582"/><circle cx="196.44" cy="202.75" r=".707" fill-opacity="0.584" stroke-opacity="0.584"/><circle cx="136.04" cy="220.74" r=".707" fill-opacity="0.584" stroke-opacity="0.584"/><circle cx="186.61" cy="102.33" r=".707" fill-opacity="0.585" stroke-opacity="0.585"/><circle cx="183.59" cy="131.74" r=".707" fill-opacity="0.585" stroke-opacity="0.585"/><circle cx="173.57" cy="108.81" r=".707" fill-opacity="0.586" stroke-opacity="0.586"/><circle cx="193.14" cy="97.98" r=".707" fill-opacity="0.586" stroke-opacity="0.586"/><circle cx="184.23" cy="109.55" r=".707" fill-opacity="0.587" stroke-opacity="0.587"/><circle cx="144.29" cy="228.77" r=".707" fill-opacity="0.587" stroke-opacity="0.587"/><circle cx="132.70" cy="115.96" r=".707" fill-opacity="0.587" stroke-opacity="0.587"/><circle cx="104.83" cy="115.74" r=".707" fill-opacity="0.589" stroke-opacity="0.589"/><circle cx="101.80" cy="145.17" r=".707" fill-opacity="0.589" stroke-opacity="0.589"/><circle cx="100.05" cy="131.97" r=".707" fill-opacity="0.59" stroke-opacity="0.59"/><circle cx="152.72" cy="159.65" r=".707" fill-opacity="0.59" stroke-opacity="0.59"/><circle cx="198.40" cy="134.94" r=".707" fill-opacity="0.59" stroke-opacity="0.59"/><circle cx="231.04" cy="117.16" r=".707" fill-opacity="0.59" stroke-opacity="0.59"/><circle cx="130.11" cy="199.07" r=".707" fill-opacity="0.591" stroke-opacity="0.591"/><circle cx="153.83" cy="193.31" r=".707" fill-opacity="0.591" stroke-opacity="0.591"/><circle cx="178.83" cy="144.90" r=".707" fill-opacity="0.591" stroke-opacity="0.591"/><circle cx="97.63" cy="139.21" r=".707" fill-opacity="0.591" stroke-opacity="0.591"/><circle cx="143.33" cy="114.49" r=".707" fill-opacity="0.592" stroke-opacity="0.592"/><circle cx="194.75" cy="184.42" r=".707" fill-opacity="0.592" stroke-opacity="0.592"/><circle cx="242.87" cy="151.14" r=".707" fill-opacity="0.593" stroke-opacity="0.593"/><circle cx="185.84" cy="195.59" r=".707" fill-opacity="0.593" stroke-opacity="0.593"/><circle cx="166.24" cy="206.00" r=".707" fill-opacity="0.594" stroke-opacity="0.594"/><circle cx="122.91" cy="222.17" r=".707" fill-opacity="0.594" stroke-opacity="0.594"/><circle cx="245.10" cy="219.40" r=".707" fill-opacity="0.594" stroke-opacity="0.594"/><circle cx="223.77" cy="216.17" r=".707" fill-opacity="0.595" stroke-opacity="0.595"/><circle cx="189.52" cy="143.46" r=".707" fill-opacity="0.595" stroke-opacity="0.595"/><circle cx="229.21" cy="177.69" r=".707" fill-opacity="0.596" stroke-opacity="0.596"/><circle cx="178.67" cy="218.71" r=".707" fill-opacity="0.596" stroke-opacity="0.596"/><circle cx="126.08" cy="113.68" r=".707" fill-opacity="0.596" stroke-opacity="0.596"/><circle cx="186.96" cy="228.03" r=".707" fill-opacity="0.597" stroke-opacity="0.597"/><circle cx="248.20" cy="187.77" r=".707" fill-opacity="0.597" stroke-opacity="0.597"/><circle cx="129.39" cy="215.73" r=".707" fill-opacity="0.599" stroke-opacity="0.599"/><circle cx="232.92" cy="125.09" r=".707" fill-opacity="0.599" stroke-opacity="0.599"/><circle cx="109.94" cy="148.81" r=".707" fill-opacity="0.599" stroke-opacity="0.599"/><circle cx="133.07" cy="164.41" r=".707" fill-opacity="0.599" stroke-opacity="0.599"/><circle cx="210.91" cy="143.65" r=".707" fill-opacity="0.599" stroke-opacity="0.599"/><circle cx="94.46" cy="163.89" r=".707" fill-opacity="0.599" stroke-opacity="0.599"/><circle cx="236.44" cy="150.68" r=".707" fill-opacity="0.6" stroke-opacity="0.6"/><circle cx="126.52" cy="167.46" r=".707" fill-opacity="0.6" stroke-opacity="0.6"/><circle cx="112.13" cy="216.31" r=".707" fill-opacity="0.601" stroke-opacity="0.601"/><circle cx="186.04" cy="113.47" r=".707" fill-opacity="0.601" stroke-opacity="0.601"/><circle cx="138.30" cy="201.97" r=".707" fill-opacity="0.602" stroke-opacity="0.602"/><circle cx="131.76" cy="205.45" r=".707" fill-opacity="0.602" stroke-opacity="0.602"/><circle cx="216.20" cy="181.19" r=".707" fill-opacity="0.602" stroke-opacity="0.602"/><circle cx="102.24" cy="115.90" r=".707" fill-opacity="0.602" stroke-opacity="0.602"/><circle cx="250.05" cy="198.00" r=".707" fill-opacity="0.602" stroke-opacity="0.602"/><circle cx="75.23" cy="228.19" r=".707" fill-opacity="0.603" stroke-opacity="0.603"/><circle cx="161.62" cy="139.31" r=".707" fill-opacity="0.604" stroke-opacity="0.604"/><circle cx="225.65" cy="223.88" r=".707" fill-opacity="0.604" stroke-opacity="0.604"/><circle cx="182.85" cy="218.27" r=".707" fill-opacity="0.605" stroke-opacity="0.605"/><circle cx="221.69" cy="140.89" r=".707" fill-opacity="0.606" stroke-opacity="0.606"/><circle cx="176.30" cy="221.33" r=".707" fill-opacity="0.606" stroke-opacity="0.606"/><circle cx="162.25" cy="116.14" r=".707" fill-opacity="0.606" stroke-opacity="0.606"/><circle cx="117.02" cy="119.09" r=".707" fill-opacity="0.607" stroke-opacity="0.607"/><circle cx="128.67" cy="232.03" r=".707" fill-opacity="0.607" stroke-opacity="0.607"/><circle cx="176.94" cy="199.06" r=".707" fill-opacity="0.607" stroke-opacity="0.607"/><circle cx="134.75" cy="172.45" r=".707" fill-opacity="0.607" stroke-opacity="0.607"/><circle cx="129.48" cy="133.10" r=".707" fill-opacity="0.607" stroke-opacity="0.607"/><circle cx="222.18" cy="195.67" r=".707" fill-opacity="0.608" stroke-opacity="0.608"/><circle cx="232.43" cy="140.76" r=".707" fill-opacity="0.608" stroke-opacity="0.608"/><circle cx="244.28" cy="175.76" r=".707" fill-opacity="0.609" stroke-opacity="0.609"/><circle cx="155.52" cy="194.53" r=".707" fill-opacity="0.61" stroke-opacity="0.61"/><circle cx="225.10" cy="241.49" r=".707" fill-opacity="0.611" stroke-opacity="0.611"/><circle cx="178.24" cy="154.04" r=".707" fill-opacity="0.611" stroke-opacity="0.611"/><circle cx="240.63" cy="225.50" r=".707" fill-opacity="0.612" stroke-opacity="0.612"/><circle cx="95.99" cy="169.33" r=".707" fill-opacity="0.612" stroke-opacity="0.612"/><circle cx="264.66" cy="142.13" r=".707" fill-opacity="0.612" stroke-opacity="0.612"/><circle cx="158.38" cy="241.23" r=".707" fill-opacity="0.612" stroke-opacity="0.612"/><circle cx="171.04" cy="178.10" r=".707" fill-opacity="0.612" stroke-opacity="0.612"/><circle cx="116.31" cy="136.99" r=".707" fill-opacity="0.612" stroke-opacity="0.612"/><circle cx="115.02" cy="179.87" r=".707" fill-opacity="0.612" stroke-opacity="0.612"/><circle cx="107.99" cy="127.19" r=".707" fill-opacity="0.613" stroke-opacity="0.613"/><circle cx="199.05" cy="176.56" r=".707" fill-opacity="0.613" stroke-opacity="0.613"/><circle cx="137.10" cy="160.38" r=".707" fill-opacity="0.613" stroke-opacity="0.613"/><circle cx="258.13" cy="144.73" r=".707" fill-opacity="0.613" stroke-opacity="0.613"/><circle cx="165.12" cy="159.27" r=".707" fill-opacity="0.614" stroke-opacity="0.614"/><circle cx="185.29" cy="204.13" r=".707" fill-opacity="0.615" stroke-opacity="0.615"/><circle cx="241.51" cy="124.70" r=".707" fill-opacity="0.615" stroke-opacity="0.615"/><circle cx="229.97" cy="222.18" r=".707" fill-opacity="0.615" stroke-opacity="0.615"/><circle cx="88.72" cy="192.10" r=".707" fill-opacity="0.615" stroke-opacity="0.615"/><circle cx="73.17" cy="207.25" r=".707" fill-opacity="0.616" stroke-opacity="0.616"/><circle cx="157.26" cy="204.37" r=".707" fill-opacity="0.616" stroke-opacity="0.616"/><circle cx="113.69" cy="220.63" r=".707" fill-opacity="0.616" stroke-opacity="0.616"/><circle cx="205.64" cy="171.33" r=".707" fill-opacity="0.616" stroke-opacity="0.616"/><circle cx="80.84" cy="238.08" r=".707" fill-opacity="0.616" stroke-opacity="0.616"/><circle cx="138.37" cy="115.26" r=".707" fill-opacity="0.617" stroke-opacity="0.617"/><circle cx="175.21" cy="179.74" r=".707" fill-opacity="0.617" stroke-opacity="0.617"/><circle cx="174.56" cy="201.21" r=".707" fill-opacity="0.617" stroke-opacity="0.617"/><circle cx="94.60" cy="208.78" r=".707" fill-opacity="0.618" stroke-opacity="0.618"/><circle cx="111.43" cy="150.25" r=".707" fill-opacity="0.618" stroke-opacity="0.618"/><circle cx="230.65" cy="199.01" r=".707" fill-opacity="0.618" stroke-opacity="0.618"/><circle cx="220.73" cy="98.63" r=".707" fill-opacity="0.618" stroke-opacity="0.618"/><circle cx="212.88" cy="145.06" r=".707" fill-opacity="0.618" stroke-opacity="0.618"/><circle cx="221.68" cy="210.68" r=".707" fill-opacity="0.618" stroke-opacity="0.618"/><circle cx="144.93" cy="110.88" r=".707" fill-opacity="0.618" stroke-opacity="0.618"/><circle cx="258.88" cy="120.18" r=".707" fill-opacity="0.619" stroke-opacity="0.619"/><circle cx="252.96" cy="102.20" r=".707" fill-opacity="0.619" stroke-opacity="0.619"/><circle cx="104.19" cy="174.34" r=".707" fill-opacity="0.619" stroke-opacity="0.619"/><circle cx="224.75" cy="180.16" r=".707" fill-opacity="0.619" stroke-opacity="0.619"/><circle cx="239.66" cy="186.04" r=".707" fill-opacity="0.62" stroke-opacity="0.62"/><circle cx="201.04" cy="107.76" r=".707" fill-opacity="0.62" stroke-opacity="0.62"/><circle cx="196.06" cy="201.88" r=".707" fill-opacity="0.621" stroke-opacity="0.621"/><circle cx="215.96" cy="113.64" r=".707" fill-opacity="0.621" stroke-opacity="0.621"/><circle cx="100.47" cy="224.63" r=".707" fill-opacity="0.621" stroke-opacity="0.621"/><circle cx="148.43" cy="135.27" r=".707" fill-opacity="0.621" stroke-opacity="0.621"/><circle cx="143.45" cy="229.41" r=".707" fill-opacity="0.622" stroke-opacity="0.622"/><circle cx="190.60" cy="239.32" r=".707" fill-opacity="0.622" stroke-opacity="0.622"/><circle cx="140.56" cy="180.87" r=".707" fill-opacity="0.623" stroke-opacity="0.623"/><circle cx="175.39" cy="98.46" r=".707" fill-opacity="0.623" stroke-opacity="0.623"/><circle cx="141.03" cy="236.75" r=".707" fill-opacity="0.623" stroke-opacity="0.623"/><circle cx="117.75" cy="220.62" r=".707" fill-opacity="0.624" stroke-opacity="0.624"/><circle cx="205.25" cy="109.77" r=".707" fill-opacity="0.625" stroke-opacity="0.625"/><circle cx="233.81" cy="164.99" r=".707" fill-opacity="0.625" stroke-opacity="0.625"/><circle cx="168.81" cy="101.06" r=".707" fill-opacity="0.625" stroke-opacity="0.625"/><circle cx="213.42" cy="197.00" r=".707" fill-opacity="0.625" stroke-opacity="0.625"/><circle cx="141.83" cy="136.11" r=".707" fill-opacity="0.626" stroke-opacity="0.626"/><circle cx="123.19" cy="181.01" r=".707" fill-opacity="0.626" stroke-opacity="0.626"/><circle cx="190.33" cy="102.54" r=".707" fill-opacity="0.627" stroke-opacity="0.627"/><circle cx="186.63" cy="153.77" r=".707" fill-opacity="0.627" stroke-opacity="0.627"/><circle cx="123.83" cy="159.05" r=".707" fill-opacity="0.627" stroke-opacity="0.627"/><circle cx="238.03" cy="168.38" r=".707" fill-opacity="0.627" stroke-opacity="0.627"/><circle cx="155.94" cy="240.53" r=".707" fill-opacity="0.627" stroke-opacity="0.627"/><circle cx="217.80" cy="122.51" r=".707" fill-opacity="0.628" stroke-opacity="0.628"/><circle cx="237.39" cy="189.47" r=".707" fill-opacity="0.628" stroke-opacity="0.628"/><circle cx="120.93" cy="110.43" r=".707" fill-opacity="0.628" stroke-opacity="0.628"/><circle cx="192.11" cy="114.53" r=".707" fill-opacity="0.629" stroke-opacity="0.629"/><circle cx="102.75" cy="211.73" r=".707" fill-opacity="0.629" stroke-opacity="0.629"/><circle cx="173.46" cy="159.46" r=".707" fill-opacity="0.629" stroke-opacity="0.629"/><circle cx="127.81" cy="240.36" r=".707" fill-opacity="0.629" stroke-opacity="0.629"/><circle cx="223.13" cy="160.74" r=".707" fill-opacity="0.63" stroke-opacity="0.63"/><circle cx="215.42" cy="129.37" r=".707" fill-opacity="0.63" stroke-opacity="0.63"/><circle cx="269.91" cy="114.25" r=".707" fill-opacity="0.63" stroke-opacity="0.63"/><circle cx="115.44" cy="147.46" r=".707" fill-opacity="0.63" stroke-opacity="0.63"/><circle cx="235.67" cy="174.83" r=".707" fill-opacity="0.63" stroke-opacity="0.63"/><circle cx="159.81" cy="109.16" r=".707" fill-opacity="0.631" stroke-opacity="0.631"/><circle cx="96.30" cy="135.99" r=".707" fill-opacity="0.631" stroke-opacity="0.631"/><circle cx="254.34" cy="129.01" r=".707" fill-opacity="0.631" stroke-opacity="0.631"/><circle cx="181.18" cy="189.08" r=".707" fill-opacity="0.632" stroke-opacity="0.632"/><circle cx="263.39" cy="115.97" r=".707" fill-opacity="0.633" stroke-opacity="0.633"/><circle cx="197.26" cy="229.01" r=".707" fill-opacity="0.633" stroke-opacity="0.633"/><circle cx="219.00" cy="153.40" r=".707" fill-opacity="0.634" stroke-opacity="0.634"/><circle cx="107.01" cy="134.97" r=".707" fill-opacity="0.635" stroke-opacity="0.635"/><circle cx="193.09" cy="223.02" r=".707" fill-opacity="0.635" stroke-opacity="0.635"/><circle cx="162.69" cy="153.87" r=".707" fill-opacity="0.636" stroke-opacity="0.636"/><circle cx="161.39" cy="197.00" r=".707" fill-opacity="0.636" stroke-opacity="0.636"/><circle cx="113.59" cy="130.58" r=".707" fill-opacity="0.636" stroke-opacity="0.636"/><circle cx="170.41" cy="184.85" r=".707" fill-opacity="0.637" stroke-opacity="0.637"/><circle cx="213.73" cy="112.01" r=".707" fill-opacity="0.637" stroke-opacity="0.637"/><circle cx="246.58" cy="171.66" r=".707" fill-opacity="0.638" stroke-opacity="0.638"/><circle cx="141.58" cy="206.66" r=".707" fill-opacity="0.638" stroke-opacity="0.638"/><circle cx="156.73" cy="134.47" r=".707" fill-opacity="0.639" stroke-opacity="0.639"/><circle cx="118.40" cy="112.37" r=".707" fill-opacity="0.639" stroke-opacity="0.639"/><circle cx="168.64" cy="170.18" r=".707" fill-opacity="0.639" stroke-opacity="0.639"/><circle cx="94.38" cy="117.74" r=".707" fill-opacity="0.639" stroke-opacity="0.639"/><circle cx="77.93" cy="232.68" r=".707" fill-opacity="0.64" stroke-opacity="0.64"/><circle cx="136.08" cy="243.83" r=".707" fill-opacity="0.64" stroke-opacity="0.64"/><circle cx="101.46" cy="170.33" r=".707" fill-opacity="0.64" stroke-opacity="0.64"/><circle cx="253.89" cy="144.81" r=".707" fill-opacity="0.641" stroke-opacity="0.641"/><circle cx="165.57" cy="199.11" r=".707" fill-opacity="0.641" stroke-opacity="0.641"/><circle cx="144.15" cy="118.13" r=".707" fill-opacity="0.642" stroke-opacity="0.642"/><circle cx="204.10" cy="142.64" r=".707" fill-opacity="0.642" stroke-opacity="0.642"/><circle cx="168.17" cy="112.30" r=".707" fill-opacity="0.642" stroke-opacity="0.642"/><circle cx="212.96" cy="208.63" r=".707" fill-opacity="0.642" stroke-opacity="0.642"/><circle cx="167.35" cy="211.62" r=".707" fill-opacity="0.642" stroke-opacity="0.642"/><circle cx="133.35" cy="116.48" r=".707" fill-opacity="0.642" stroke-opacity="0.642"/><circle cx="120.13" cy="123.50" r=".707" fill-opacity="0.642" stroke-opacity="0.642"/><circle cx="232.34" cy="140.64" r=".707" fill-opacity="0.643" stroke-opacity="0.643"/><circle cx="192.67" cy="161.72" r=".707" fill-opacity="0.644" stroke-opacity="0.644"/><circle cx="86.86" cy="217.95" r=".707" fill-opacity="0.644" stroke-opacity="0.644"/><circle cx="178.15" cy="211.53" r=".707" fill-opacity="0.644" stroke-opacity="0.644"/><circle cx="210.75" cy="136.91" r=".707" fill-opacity="0.645" stroke-opacity="0.645"/><circle cx="121.04" cy="234.50" r=".707" fill-opacity="0.645" stroke-opacity="0.645"/><circle cx="115.71" cy="194.36" r=".707" fill-opacity="0.646" stroke-opacity="0.646"/><circle cx="115.07" cy="215.98" r=".707" fill-opacity="0.646" stroke-opacity="0.646"/><circle cx="175.91" cy="140.21" r=".707" fill-opacity="0.647" stroke-opacity="0.647"/><circle cx="112.80" cy="145.52" r=".707" fill-opacity="0.647" stroke-opacity="0.647"/><circle cx="164.92" cy="216.41" r=".707" fill-opacity="0.648" stroke-opacity="0.648"/><circle cx="206.59" cy="129.97" r=".707" fill-opacity="0.649" stroke-opacity="0.649"/><circle cx="99.54" cy="151.67" r=".707" fill-opacity="0.649" stroke-opacity="0.649"/><circle cx="135.06" cy="125.40" r=".707" fill-opacity="0.649" stroke-opacity="0.649"/><circle cx="187.86" cy="175.12" r=".707" fill-opacity="0.649" stroke-opacity="0.649"/><circle cx="136.18" cy="159.99" r=".707" fill-opacity="0.65" stroke-opacity="0.65"/><circle cx="252.30" cy="126.09" r=".707" fill-opacity="0.65" stroke-opacity="0.65"/><circle cx="209.02" cy="120.85" r=".707" fill-opacity="0.65" stroke-opacity="0.65"/><circle cx="174.14" cy="125.04" r=".707" fill-opacity="0.65" stroke-opacity="0.65"/><circle cx="161.85" cy="245.00" r=".707" fill-opacity="0.651" stroke-opacity="0.651"/><circle cx="157.82" cy="161.95" r=".707" fill-opacity="0.651" stroke-opacity="0.651"/><circle cx="105.00" cy="111.77" r=".707" fill-opacity="0.651" stroke-opacity="0.651"/><circle cx="76.55" cy="190.79" r=".707" fill-opacity="0.651" stroke-opacity="0.651"/><circle cx="135.69" cy="101.96" r=".707" fill-opacity="0.652" stroke-opacity="0.652"/><circle cx="155.22" cy="247.67" r=".707" fill-opacity="0.652" stroke-opacity="0.652"/><circle cx="136.64" cy="214.94" r=".707" fill-opacity="0.652" stroke-opacity="0.652"/><circle cx="130.01" cy="218.46" r=".707" fill-opacity="0.652" stroke-opacity="0.652"/><circle cx="132.43" cy="209.78" r=".707" fill-opacity="0.653" stroke-opacity="0.653"/><circle cx="162.49" cy="222.07" r=".707" fill-opacity="0.653" stroke-opacity="0.653"/><circle cx="211.31" cy="188.74" r=".707" fill-opacity="0.653" stroke-opacity="0.653"/><circle cx="232.32" cy="212.80" r=".707" fill-opacity="0.653" stroke-opacity="0.653"/><circle cx="217.94" cy="184.78" r=".707" fill-opacity="0.654" stroke-opacity="0.654"/><circle cx="118.04" cy="181.32" r=".707" fill-opacity="0.654" stroke-opacity="0.654"/><circle cx="85.55" cy="177.28" r=".707" fill-opacity="0.654" stroke-opacity="0.654"/><circle cx="69.85" cy="192.57" r=".707" fill-opacity="0.654" stroke-opacity="0.654"/><circle cx="225.06" cy="237.13" r=".707" fill-opacity="0.655" stroke-opacity="0.655"/><circle cx="208.26" cy="217.35" r=".707" fill-opacity="0.655" stroke-opacity="0.655"/><circle cx="250.65" cy="109.10" r=".707" fill-opacity="0.656" stroke-opacity="0.656"/><circle cx="200.68" cy="107.36" r=".707" fill-opacity="0.656" stroke-opacity="0.656"/><circle cx="162.01" cy="163.15" r=".707" fill-opacity="0.657" stroke-opacity="0.657"/><circle cx="217.50" cy="126.26" r=".707" fill-opacity="0.657" stroke-opacity="0.657"/><circle cx="200.04" cy="128.14" r=".707" fill-opacity="0.657" stroke-opacity="0.657"/><circle cx="108.28" cy="212.60" r=".707" fill-opacity="0.658" stroke-opacity="0.658"/><circle cx="169.77" cy="193.85" r=".707" fill-opacity="0.658" stroke-opacity="0.658"/><circle cx="256.03" cy="147.58" r=".707" fill-opacity="0.658" stroke-opacity="0.658"/><circle cx="122.67" cy="240.22" r=".707" fill-opacity="0.658" stroke-opacity="0.658"/><circle cx="184.82" cy="199.79" r=".707" fill-opacity="0.658" stroke-opacity="0.658"/><circle cx="197.62" cy="135.95" r=".707" fill-opacity="0.658" stroke-opacity="0.658"/><circle cx="256.69" cy="125.45" r=".707" fill-opacity="0.659" stroke-opacity="0.659"/><circle cx="230.80" cy="117.87" r=".707" fill-opacity="0.659" stroke-opacity="0.659"/><circle cx="159.41" cy="248.57" r=".707" fill-opacity="0.659" stroke-opacity="0.659"/><circle cx="207.17" cy="180.08" r=".707" fill-opacity="0.659" stroke-opacity="0.659"/><circle cx="133.68" cy="162.51" r=".707" fill-opacity="0.659" stroke-opacity="0.659"/><circle cx="119.10" cy="212.94" r=".707" fill-opacity="0.659" stroke-opacity="0.659"/><circle cx="123.31" cy="217.67" r=".707" fill-opacity="0.66" stroke-opacity="0.66"/><circle cx="239.71" cy="183.69" r=".707" fill-opacity="0.66" stroke-opacity="0.66"/><circle cx="154.07" cy="207.86" r=".707" fill-opacity="0.66" stroke-opacity="0.66"/><circle cx="212.04" cy="162.24" r=".707" fill-opacity="0.661" stroke-opacity="0.661"/><circle cx="247.68" cy="135.90" r=".707" fill-opacity="0.661" stroke-opacity="0.661"/><circle cx="221.77" cy="128.31" r=".707" fill-opacity="0.661" stroke-opacity="0.661"/><circle cx="171.73" cy="126.58" r=".707" fill-opacity="0.661" stroke-opacity="0.661"/><circle cx="226.63" cy="111.34" r=".707" fill-opacity="0.662" stroke-opacity="0.662"/><circle cx="145.16" cy="140.69" r=".707" fill-opacity="0.662" stroke-opacity="0.662"/><circle cx="210.27" cy="148.36" r=".707" fill-opacity="0.662" stroke-opacity="0.662"/><circle cx="239.11" cy="203.65" r=".707" fill-opacity="0.663" stroke-opacity="0.663"/><circle cx="172.21" cy="182.53" r=".707" fill-opacity="0.663" stroke-opacity="0.663"/><circle cx="105.95" cy="139.71" r=".707" fill-opacity="0.663" stroke-opacity="0.663"/><circle cx="154.88" cy="106.30" r=".707" fill-opacity="0.663" stroke-opacity="0.663"/><circle cx="89.10" cy="119.89" r=".707" fill-opacity="0.663" stroke-opacity="0.663"/><circle cx="163.61" cy="250.76" r=".707" fill-opacity="0.663" stroke-opacity="0.663"/><circle cx="90.03" cy="232.74" r=".707" fill-opacity="0.664" stroke-opacity="0.664"/><circle cx="119.21" cy="131.32" r=".707" fill-opacity="0.665" stroke-opacity="0.665"/><circle cx="80.47" cy="187.67" r=".707" fill-opacity="0.665" stroke-opacity="0.665"/><circle cx="104.62" cy="181.81" r=".707" fill-opacity="0.665" stroke-opacity="0.665"/><circle cx="166.87" cy="141.32" r=".707" fill-opacity="0.665" stroke-opacity="0.665"/><circle cx="135.24" cy="250.59" r=".707" fill-opacity="0.665" stroke-opacity="0.665"/><circle cx="102.35" cy="111.47" r=".707" fill-opacity="0.665" stroke-opacity="0.665"/><circle cx="85.97" cy="148.53" r=".707" fill-opacity="0.666" stroke-opacity="0.666"/><circle cx="97.28" cy="205.76" r=".707" fill-opacity="0.667" stroke-opacity="0.667"/><circle cx="91.26" cy="186.69" r=".707" fill-opacity="0.669" stroke-opacity="0.669"/><circle cx="93.03" cy="199.71" r=".707" fill-opacity="0.669" stroke-opacity="0.669"/><circle cx="221.70" cy="202.06" r=".707" fill-opacity="0.669" stroke-opacity="0.669"/><circle cx="241.83" cy="112.78" r=".707" fill-opacity="0.669" stroke-opacity="0.669"/><circle cx="195.91" cy="115.78" r=".707" fill-opacity="0.67" stroke-opacity="0.67"/><circle cx="215.71" cy="183.42" r=".707" fill-opacity="0.67" stroke-opacity="0.67"/><circle cx="83.92" cy="211.09" r=".707" fill-opacity="0.67" stroke-opacity="0.67"/><circle cx="139.11" cy="116.67" r=".707" fill-opacity="0.671" stroke-opacity="0.671"/><circle cx="160.03" cy="219.56" r=".707" fill-opacity="0.671" stroke-opacity="0.671"/><circle cx="120.09" cy="240.79" r=".707" fill-opacity="0.672" stroke-opacity="0.672"/><circle cx="250.32" cy="120.91" r=".707" fill-opacity="0.672" stroke-opacity="0.672"/><circle cx="151.11" cy="152.66" r=".707" fill-opacity="0.672" stroke-opacity="0.672"/><circle cx="149.81" cy="196.17" r=".707" fill-opacity="0.672" stroke-opacity="0.672"/><circle cx="180.00" cy="208.52" r=".707" fill-opacity="0.672" stroke-opacity="0.672"/><circle cx="212.81" cy="133.85" r=".707" fill-opacity="0.672" stroke-opacity="0.672"/><circle cx="118.29" cy="226.89" r=".707" fill-opacity="0.673" stroke-opacity="0.673"/><circle cx="79.16" cy="147.62" r=".707" fill-opacity="0.673" stroke-opacity="0.673"/><circle cx="164.43" cy="144.69" r=".707" fill-opacity="0.673" stroke-opacity="0.673"/><circle cx="118.46" cy="147.70" r=".707" fill-opacity="0.674" stroke-opacity="0.674"/><circle cx="206.00" cy="214.82" r=".707" fill-opacity="0.674" stroke-opacity="0.674"/><circle cx="102.69" cy="163.06" r=".707" fill-opacity="0.674" stroke-opacity="0.674"/><circle cx="126.90" cy="157.19" r=".707" fill-opacity="0.674" stroke-opacity="0.674"/><circle cx="217.54" cy="194.26" r=".707" fill-opacity="0.674" stroke-opacity="0.674"/><circle cx="81.40" cy="217.21" r=".707" fill-opacity="0.674" stroke-opacity="0.674"/><circle cx="138.91" cy="193.21" r=".707" fill-opacity="0.675" stroke-opacity="0.675"/><circle cx="158.42" cy="125.57" r=".707" fill-opacity="0.675" stroke-opacity="0.675"/><circle cx="174.48" cy="245.13" r=".707" fill-opacity="0.675" stroke-opacity="0.675"/><circle cx="101.36" cy="205.72" r=".707" fill-opacity="0.675" stroke-opacity="0.675"/><circle cx="104.93" cy="232.25" r=".707" fill-opacity="0.676" stroke-opacity="0.676"/><circle cx="116.47" cy="211.69" r=".707" fill-opacity="0.676" stroke-opacity="0.676"/><circle cx="216.44" cy="157.69" r=".707" fill-opacity="0.677" stroke-opacity="0.677"/><circle cx="126.70" cy="234.24" r=".707" fill-opacity="0.677" stroke-opacity="0.677"/><circle cx="227.34" cy="158.45" r=".707" fill-opacity="0.677" stroke-opacity="0.677"/><circle cx="160.85" cy="115.48" r=".707" fill-opacity="0.678" stroke-opacity="0.678"/><circle cx="169.13" cy="203.39" r=".707" fill-opacity="0.678" stroke-opacity="0.678"/><circle cx="125.55" cy="198.11" r=".707" fill-opacity="0.679" stroke-opacity="0.679"/><circle cx="193.54" cy="118.20" r=".707" fill-opacity="0.679" stroke-opacity="0.679"/><circle cx="214.69" cy="142.42" r=".707" fill-opacity="0.68" stroke-opacity="0.68"/><circle cx="233.40" cy="174.93" r=".707" fill-opacity="0.68" stroke-opacity="0.68"/><circle cx="134.64" cy="184.95" r=".707" fill-opacity="0.68" stroke-opacity="0.68"/><circle cx="258.95" cy="125.46" r=".707" fill-opacity="0.68" stroke-opacity="0.68"/><circle cx="98.35" cy="153.88" r=".707" fill-opacity="0.681" stroke-opacity="0.681"/><circle cx="185.09" cy="107.34" r=".707" fill-opacity="0.681" stroke-opacity="0.681"/><circle cx="252.31" cy="128.10" r=".707" fill-opacity="0.682" stroke-opacity="0.682"/><circle cx="150.90" cy="225.35" r=".707" fill-opacity="0.682" stroke-opacity="0.682"/><circle cx="90.53" cy="121.66" r=".707" fill-opacity="0.682" stroke-opacity="0.682"/><circle cx="139.51" cy="166.58" r=".707" fill-opacity="0.683" stroke-opacity="0.683"/><circle cx="95.87" cy="160.85" r=".707" fill-opacity="0.684" stroke-opacity="0.684"/><circle cx="166.03" cy="230.46" r=".707" fill-opacity="0.684" stroke-opacity="0.684"/><circle cx="168.00" cy="164.57" r=".707" fill-opacity="0.685" stroke-opacity="0.685"/><circle cx="228.10" cy="132.19" r=".707" fill-opacity="0.685" stroke-opacity="0.685"/><circle cx="127.45" cy="128.70" r=".707" fill-opacity="0.685" stroke-opacity="0.685"/><circle cx="101.38" cy="121.07" r=".707" fill-opacity="0.685" stroke-opacity="0.685"/><circle cx="164.24" cy="215.22" r=".707" fill-opacity="0.687" stroke-opacity="0.687"/><circle cx="221.45" cy="134.39" r=".707" fill-opacity="0.687" stroke-opacity="0.687"/><circle cx="96.46" cy="136.79" r=".707" fill-opacity="0.687" stroke-opacity="0.687"/><circle cx="173.37" cy="202.91" r=".707" fill-opacity="0.688" stroke-opacity="0.688"/><circle cx="154.63" cy="169.89" r=".707" fill-opacity="0.688" stroke-opacity="0.688"/><circle cx="182.67" cy="111.57" r=".707" fill-opacity="0.688" stroke-opacity="0.688"/><circle cx="132.61" cy="245.63" r=".707" fill-opacity="0.689" stroke-opacity="0.689"/><circle cx="175.82" cy="193.72" r=".707" fill-opacity="0.689" stroke-opacity="0.689"/><circle cx="142.39" cy="211.48" r=".707" fill-opacity="0.689" stroke-opacity="0.689"/><circle cx="235.34" cy="182.71" r=".707" fill-opacity="0.69" stroke-opacity="0.69"/><circle cx="97.55" cy="170.37" r=".707" fill-opacity="0.69" stroke-opacity="0.69"/><circle cx="131.46" cy="209.39" r=".707" fill-opacity="0.69" stroke-opacity="0.69"/><circle cx="186.75" cy="194.06" r=".707" fill-opacity="0.69" stroke-opacity="0.69"/><circle cx="243.35" cy="135.02" r=".707" fill-opacity="0.69" stroke-opacity="0.69"/><circle cx="169.31" cy="117.31" r=".707" fill-opacity="0.691" stroke-opacity="0.691"/><circle cx="160.17" cy="129.18" r=".707" fill-opacity="0.691" stroke-opacity="0.691"/><circle cx="119.21" cy="251.45" r=".707" fill-opacity="0.691" stroke-opacity="0.691"/><circle cx="232.26" cy="212.01" r=".707" fill-opacity="0.692" stroke-opacity="0.692"/><circle cx="193.92" cy="246.87" r=".707" fill-opacity="0.692" stroke-opacity="0.692"/><circle cx="146.14" cy="157.70" r=".707" fill-opacity="0.692" stroke-opacity="0.692"/><circle cx="209.75" cy="231.00" r=".707" fill-opacity="0.692" stroke-opacity="0.692"/><circle cx="102.22" cy="230.64" r=".707" fill-opacity="0.693" stroke-opacity="0.693"/><circle cx="220.04" cy="253.22" r=".707" fill-opacity="0.694" stroke-opacity="0.694"/><circle cx="149.23" cy="126.17" r=".707" fill-opacity="0.694" stroke-opacity="0.694"/><circle cx="84.10" cy="175.27" r=".707" fill-opacity="0.694" stroke-opacity="0.694"/><circle cx="180.73" cy="173.10" r=".707" fill-opacity="0.695" stroke-opacity="0.695"/><circle cx="219.59" cy="195.07" r=".707" fill-opacity="0.695" stroke-opacity="0.695"/><circle cx="145.46" cy="177.35" r=".707" fill-opacity="0.695" stroke-opacity="0.695"/><circle cx="158.67" cy="248.97" r=".707" fill-opacity="0.696" stroke-opacity="0.696"/><circle cx="209.31" cy="171.53" r=".707" fill-opacity="0.696" stroke-opacity="0.696"/><circle cx="189.71" cy="239.08" r=".707" fill-opacity="0.697" stroke-opacity="0.697"/><circle cx="116.39" cy="120.27" r=".707" fill-opacity="0.697" stroke-opacity="0.697"/><circle cx="245.26" cy="144.52" r=".707" fill-opacity="0.697" stroke-opacity="0.697"/><circle cx="156.40" cy="177.68" r=".707" fill-opacity="0.697" stroke-opacity="0.697"/><circle cx="74.88" cy="185.39" r=".707" fill-opacity="0.697" stroke-opacity="0.697"/><circle cx="138.09" cy="201.47" r=".707" fill-opacity="0.698" stroke-opacity="0.698"/><circle cx="93.63" cy="217.18" r=".707" fill-opacity="0.699" stroke-opacity="0.699"/><circle cx="176.98" cy="222.58" r=".707" fill-opacity="0.7" stroke-opacity="0.7"/><circle cx="207.37" cy="235.01" r=".707" fill-opacity="0.7" stroke-opacity="0.7"/><circle cx="111.44" cy="135.13" r=".707" fill-opacity="0.7" stroke-opacity="0.7"/><circle cx="150.34" cy="157.12" r=".707" fill-opacity="0.701" stroke-opacity="0.701"/><circle cx="91.97" cy="123.46" r=".707" fill-opacity="0.701" stroke-opacity="0.701"/><circle cx="108.31" cy="164.93" r=".707" fill-opacity="0.701" stroke-opacity="0.701"/><circle cx="151.47" cy="191.71" r=".707" fill-opacity="0.702" stroke-opacity="0.702"/><circle cx="89.50" cy="131.35" r=".707" fill-opacity="0.702" stroke-opacity="0.702"/><circle cx="141.00" cy="247.44" r=".707" fill-opacity="0.702" stroke-opacity="0.702"/><circle cx="217.23" cy="199.02" r=".707" fill-opacity="0.703" stroke-opacity="0.703"/><circle cx="205.13" cy="162.31" r=".707" fill-opacity="0.703" stroke-opacity="0.703"/><circle cx="88.15" cy="174.29" r=".707" fill-opacity="0.704" stroke-opacity="0.704"/><circle cx="113.19" cy="146.45" r=".707" fill-opacity="0.704" stroke-opacity="0.704"/><circle cx="160.63" cy="178.47" r=".707" fill-opacity="0.704" stroke-opacity="0.704"/><circle cx="202.02" cy="192.13" r=".707" fill-opacity="0.704" stroke-opacity="0.704"/><circle cx="125.94" cy="160.80" r=".707" fill-opacity="0.705" stroke-opacity="0.705"/><circle cx="153.74" cy="260.94" r=".707" fill-opacity="0.705" stroke-opacity="0.705"/><circle cx="224.62" cy="172.20" r=".707" fill-opacity="0.705" stroke-opacity="0.705"/><circle cx="192.39" cy="146.18" r=".707" fill-opacity="0.706" stroke-opacity="0.706"/><circle cx="63.72" cy="178.87" r=".707" fill-opacity="0.706" stroke-opacity="0.706"/><circle cx="148.52" cy="140.41" r=".707" fill-opacity="0.706" stroke-opacity="0.706"/><circle cx="236.30" cy="149.70" r=".707" fill-opacity="0.708" stroke-opacity="0.708"/><circle cx="146.53" cy="204.89" r=".707" fill-opacity="0.709" stroke-opacity="0.709"/><circle cx="206.98" cy="172.33" r=".707" fill-opacity="0.709" stroke-opacity="0.709"/><circle cx="93.63" cy="132.07" r=".707" fill-opacity="0.709" stroke-opacity="0.709"/><circle cx="197.16" cy="205.33" r=".707" fill-opacity="0.711" stroke-opacity="0.711"/><circle cx="115.38" cy="213.07" r=".707" fill-opacity="0.711" stroke-opacity="0.711"/><circle cx="66.06" cy="167.40" r=".707" fill-opacity="0.711" stroke-opacity="0.711"/><circle cx="200.28" cy="174.57" r=".707" fill-opacity="0.711" stroke-opacity="0.711"/><circle cx="172.74" cy="210.81" r=".707" fill-opacity="0.711" stroke-opacity="0.711"/><circle cx="172.92" cy="131.33" r=".707" fill-opacity="0.712" stroke-opacity="0.712"/><circle cx="187.98" cy="216.83" r=".707" fill-opacity="0.712" stroke-opacity="0.712"/><circle cx="230.77" cy="186.59" r=".707" fill-opacity="0.712" stroke-opacity="0.712"/><circle cx="124.06" cy="142.73" r=".707" fill-opacity="0.712" stroke-opacity="0.712"/><circle cx="77.66" cy="145.76" r=".707" fill-opacity="0.713" stroke-opacity="0.713"/><circle cx="167.16" cy="249.07" r=".707" fill-opacity="0.713" stroke-opacity="0.713"/><circle cx="215.38" cy="258.34" r=".707" fill-opacity="0.714" stroke-opacity="0.714"/><circle cx="221.16" cy="139.19" r=".707" fill-opacity="0.716" stroke-opacity="0.716"/><circle cx="104.98" cy="186.80" r=".707" fill-opacity="0.716" stroke-opacity="0.716"/><circle cx="179.65" cy="124.59" r=".707" fill-opacity="0.717" stroke-opacity="0.717"/><circle cx="89.69" cy="179.45" r=".707" fill-opacity="0.718" stroke-opacity="0.718"/><circle cx="228.40" cy="191.42" r=".707" fill-opacity="0.718" stroke-opacity="0.718"/><circle cx="100.01" cy="202.22" r=".707" fill-opacity="0.719" stroke-opacity="0.719"/><circle cx="181.95" cy="194.03" r=".707" fill-opacity="0.719" stroke-opacity="0.719"/><circle cx="211.83" cy="228.52" r=".707" fill-opacity="0.719" stroke-opacity="0.719"/><circle cx="192.29" cy="216.81" r=".707" fill-opacity="0.72" stroke-opacity="0.72"/><circle cx="105.58" cy="162.13" r=".707" fill-opacity="0.72" stroke-opacity="0.72"/><circle cx="108.70" cy="131.29" r=".707" fill-opacity="0.721" stroke-opacity="0.721"/><circle cx="106.72" cy="197.32" r=".707" fill-opacity="0.721" stroke-opacity="0.721"/><circle cx="127.40" cy="243.79" r=".707" fill-opacity="0.721" stroke-opacity="0.721"/><circle cx="152.06" cy="158.19" r=".707" fill-opacity="0.722" stroke-opacity="0.722"/><circle cx="146.64" cy="117.29" r=".707" fill-opacity="0.722" stroke-opacity="0.722"/><circle cx="134.13" cy="239.34" r=".707" fill-opacity="0.723" stroke-opacity="0.723"/><circle cx="170.29" cy="212.61" r=".707" fill-opacity="0.723" stroke-opacity="0.723"/><circle cx="85.97" cy="149.06" r=".707" fill-opacity="0.724" stroke-opacity="0.724"/><circle cx="243.31" cy="136.21" r=".707" fill-opacity="0.725" stroke-opacity="0.725"/><circle cx="183.77" cy="204.13" r=".707" fill-opacity="0.725" stroke-opacity="0.725"/><circle cx="195.45" cy="183.32" r=".707" fill-opacity="0.725" stroke-opacity="0.725"/><circle cx="199.07" cy="210.16" r=".707" fill-opacity="0.726" stroke-opacity="0.726"/><circle cx="129.83" cy="232.80" r=".707" fill-opacity="0.726" stroke-opacity="0.726"/><circle cx="104.35" cy="123.31" r=".707" fill-opacity="0.726" stroke-opacity="0.726"/><circle cx="163.72" cy="134.68" r=".707" fill-opacity="0.726" stroke-opacity="0.726"/><circle cx="222.92" cy="225.82" r=".707" fill-opacity="0.726" stroke-opacity="0.726"/><circle cx="147.76" cy="150.24" r=".707" fill-opacity="0.727" stroke-opacity="0.727"/><circle cx="219.31" cy="198.53" r=".707" fill-opacity="0.727" stroke-opacity="0.727"/><circle cx="111.56" cy="176.55" r=".707" fill-opacity="0.727" stroke-opacity="0.727"/><circle cx="213.72" cy="237.36" r=".707" fill-opacity="0.727" stroke-opacity="0.727"/><circle cx="183.96" cy="123.02" r=".707" fill-opacity="0.728" stroke-opacity="0.728"/><circle cx="180.65" cy="233.25" r=".707" fill-opacity="0.728" stroke-opacity="0.728"/><circle cx="216.86" cy="206.48" r=".707" fill-opacity="0.728" stroke-opacity="0.728"/><circle cx="190.53" cy="198.78" r=".707" fill-opacity="0.728" stroke-opacity="0.728"/><circle cx="184.45" cy="180.32" r=".707" fill-opacity="0.728" stroke-opacity="0.728"/><circle cx="109.74" cy="162.45" r=".707" fill-opacity="0.728" stroke-opacity="0.728"/><circle cx="235.30" cy="181.63" r=".707" fill-opacity="0.729" stroke-opacity="0.729"/><circle cx="188.55" cy="264.49" r=".707" fill-opacity="0.729" stroke-opacity="0.729"/><circle cx="148.89" cy="183.70" r=".707" fill-opacity="0.73" stroke-opacity="0.73"/><circle cx="73.00" cy="130.11" r=".707" fill-opacity="0.731" stroke-opacity="0.731"/><circle cx="137.19" cy="203.65" r=".707" fill-opacity="0.732" stroke-opacity="0.732"/><circle cx="147.56" cy="226.94" r=".707" fill-opacity="0.732" stroke-opacity="0.732"/><circle cx="115.29" cy="120.89" r=".707" fill-opacity="0.732" stroke-opacity="0.732"/><circle cx="207.02" cy="237.90" r=".707" fill-opacity="0.733" stroke-opacity="0.733"/><circle cx="178.86" cy="216.09" r=".707" fill-opacity="0.734" stroke-opacity="0.734"/><circle cx="75.39" cy="119.43" r=".707" fill-opacity="0.734" stroke-opacity="0.734"/><circle cx="201.61" cy="196.46" r=".707" fill-opacity="0.734" stroke-opacity="0.734"/><circle cx="131.56" cy="241.23" r=".707" fill-opacity="0.734" stroke-opacity="0.734"/><circle cx="250.26" cy="126.26" r=".707" fill-opacity="0.735" stroke-opacity="0.735"/><circle cx="79.64" cy="123.33" r=".707" fill-opacity="0.736" stroke-opacity="0.736"/><circle cx="102.86" cy="161.10" r=".707" fill-opacity="0.737" stroke-opacity="0.737"/><circle cx="220.77" cy="148.13" r=".707" fill-opacity="0.737" stroke-opacity="0.737"/><circle cx="182.67" cy="161.28" r=".707" fill-opacity="0.738" stroke-opacity="0.738"/><circle cx="196.69" cy="211.08" r=".707" fill-opacity="0.739" stroke-opacity="0.739"/><circle cx="163.05" cy="149.06" r=".707" fill-opacity="0.739" stroke-opacity="0.739"/><circle cx="176.40" cy="221.43" r=".707" fill-opacity="0.74" stroke-opacity="0.74"/><circle cx="122.93" cy="228.09" r=".707" fill-opacity="0.74" stroke-opacity="0.74"/><circle cx="97.86" cy="176.14" r=".707" fill-opacity="0.74" stroke-opacity="0.74"/><circle cx="155.44" cy="253.89" r=".707" fill-opacity="0.741" stroke-opacity="0.741"/><circle cx="196.22" cy="151.84" r=".707" fill-opacity="0.741" stroke-opacity="0.741"/><circle cx="152.65" cy="124.36" r=".707" fill-opacity="0.741" stroke-opacity="0.741"/><circle cx="113.19" cy="181.75" r=".707" fill-opacity="0.741" stroke-opacity="0.741"/><circle cx="237.98" cy="165.62" r=".707" fill-opacity="0.741" stroke-opacity="0.741"/><circle cx="203.67" cy="125.21" r=".707" fill-opacity="0.743" stroke-opacity="0.743"/><circle cx="81.30" cy="132.47" r=".707" fill-opacity="0.743" stroke-opacity="0.743"/><circle cx="121.08" cy="212.64" r=".707" fill-opacity="0.743" stroke-opacity="0.743"/><circle cx="189.47" cy="154.08" r=".707" fill-opacity="0.744" stroke-opacity="0.744"/><circle cx="123.06" cy="145.35" r=".707" fill-opacity="0.745" stroke-opacity="0.745"/><circle cx="183.18" cy="214.75" r=".707" fill-opacity="0.745" stroke-opacity="0.745"/><circle cx="208.47" cy="186.65" r=".707" fill-opacity="0.745" stroke-opacity="0.745"/><circle cx="90.51" cy="119.08" r=".707" fill-opacity="0.745" stroke-opacity="0.745"/><circle cx="191.96" cy="144.29" r=".707" fill-opacity="0.746" stroke-opacity="0.746"/><circle cx="215.25" cy="182.60" r=".707" fill-opacity="0.746" stroke-opacity="0.746"/><circle cx="238.72" cy="140.78" r=".707" fill-opacity="0.746" stroke-opacity="0.746"/><circle cx="80.56" cy="152.33" r=".707" fill-opacity="0.747" stroke-opacity="0.747"/><circle cx="208.32" cy="264.60" r=".707" fill-opacity="0.748" stroke-opacity="0.748"/><circle cx="230.17" cy="129.30" r=".707" fill-opacity="0.749" stroke-opacity="0.749"/><circle cx="154.25" cy="212.36" r=".707" fill-opacity="0.751" stroke-opacity="0.751"/><circle cx="211.67" cy="152.47" r=".707" fill-opacity="0.751" stroke-opacity="0.751"/><circle cx="200.41" cy="231.02" r=".707" fill-opacity="0.751" stroke-opacity="0.751"/><circle cx="229.55" cy="149.64" r=".707" fill-opacity="0.752" stroke-opacity="0.752"/><circle cx="152.43" cy="198.19" r=".707" fill-opacity="0.752" stroke-opacity="0.752"/><circle cx="190.17" cy="126.93" r=".707" fill-opacity="0.752" stroke-opacity="0.752"/><circle cx="179.57" cy="183.32" r=".707" fill-opacity="0.752" stroke-opacity="0.752"/><circle cx="209.02" cy="240.26" r=".707" fill-opacity="0.752" stroke-opacity="0.752"/><circle cx="222.11" cy="174.97" r=".707" fill-opacity="0.752" stroke-opacity="0.752"/><circle cx="203.08" cy="141.44" r=".707" fill-opacity="0.753" stroke-opacity="0.753"/><circle cx="186.18" cy="259.53" r=".707" fill-opacity="0.753" stroke-opacity="0.753"/><circle cx="143.15" cy="209.36" r=".707" fill-opacity="0.754" stroke-opacity="0.754"/><circle cx="129.75" cy="136.29" r=".707" fill-opacity="0.754" stroke-opacity="0.754"/><circle cx="127.76" cy="202.84" r=".707" fill-opacity="0.754" stroke-opacity="0.754"/><circle cx="109.87" cy="204.77" r=".707" fill-opacity="0.755" stroke-opacity="0.755"/><circle cx="120.47" cy="147.89" r=".707" fill-opacity="0.755" stroke-opacity="0.755"/><circle cx="188.02" cy="271.53" r=".707" fill-opacity="0.756" stroke-opacity="0.756"/><circle cx="143.81" cy="185.84" r=".707" fill-opacity="0.756" stroke-opacity="0.756"/><circle cx="87.83" cy="121.09" r=".707" fill-opacity="0.756" stroke-opacity="0.756"/><circle cx="210.89" cy="251.37" r=".707" fill-opacity="0.757" stroke-opacity="0.757"/><circle cx="144.47" cy="163.19" r=".707" fill-opacity="0.757" stroke-opacity="0.757"/><circle cx="132.21" cy="126.02" r=".707" fill-opacity="0.757" stroke-opacity="0.757"/><circle cx="136.52" cy="130.86" r=".707" fill-opacity="0.757" stroke-opacity="0.757"/><circle cx="139.49" cy="180.10" r=".707" fill-opacity="0.757" stroke-opacity="0.757"/><circle cx="173.95" cy="219.75" r=".707" fill-opacity="0.757" stroke-opacity="0.757"/><circle cx="204.10" cy="254.55" r=".707" fill-opacity="0.757" stroke-opacity="0.757"/><circle cx="98.90" cy="121.41" r=".707" fill-opacity="0.758" stroke-opacity="0.758"/><circle cx="105.51" cy="197.70" r=".707" fill-opacity="0.758" stroke-opacity="0.758"/><circle cx="86.44" cy="163.68" r=".707" fill-opacity="0.759" stroke-opacity="0.759"/><circle cx="189.37" cy="224.95" r=".707" fill-opacity="0.759" stroke-opacity="0.759"/><circle cx="171.64" cy="146.94" r=".707" fill-opacity="0.76" stroke-opacity="0.76"/><circle cx="133.35" cy="160.15" r=".707" fill-opacity="0.76" stroke-opacity="0.76"/><circle cx="130.19" cy="190.82" r=".707" fill-opacity="0.76" stroke-opacity="0.76"/><circle cx="201.34" cy="122.66" r=".707" fill-opacity="0.761" stroke-opacity="0.761"/><circle cx="112.25" cy="191.86" r=".707" fill-opacity="0.762" stroke-opacity="0.762"/><circle cx="204.32" cy="171.50" r=".707" fill-opacity="0.762" stroke-opacity="0.762"/><circle cx="205.97" cy="265.26" r=".707" fill-opacity="0.763" stroke-opacity="0.763"/><circle cx="194.54" cy="125.36" r=".707" fill-opacity="0.763" stroke-opacity="0.763"/><circle cx="190.54" cy="258.73" r=".707" fill-opacity="0.763" stroke-opacity="0.763"/><circle cx="124.03" cy="170.42" r=".707" fill-opacity="0.763" stroke-opacity="0.763"/><circle cx="221.58" cy="190.90" r=".707" fill-opacity="0.763" stroke-opacity="0.763"/><circle cx="170.13" cy="269.15" r=".707" fill-opacity="0.764" stroke-opacity="0.764"/><circle cx="196.20" cy="218.24" r=".707" fill-opacity="0.765" stroke-opacity="0.765"/><circle cx="158.70" cy="128.75" r=".707" fill-opacity="0.765" stroke-opacity="0.765"/><circle cx="75.87" cy="136.58" r=".707" fill-opacity="0.765" stroke-opacity="0.765"/><circle cx="157.37" cy="172.78" r=".707" fill-opacity="0.766" stroke-opacity="0.766"/><circle cx="245.88" cy="124.84" r=".707" fill-opacity="0.767" stroke-opacity="0.767"/><circle cx="93.10" cy="155.54" r=".707" fill-opacity="0.767" stroke-opacity="0.767"/><circle cx="186.42" cy="171.18" r=".707" fill-opacity="0.767" stroke-opacity="0.767"/><circle cx="116.50" cy="193.59" r=".707" fill-opacity="0.768" stroke-opacity="0.768"/><circle cx="174.15" cy="132.54" r=".707" fill-opacity="0.769" stroke-opacity="0.769"/><circle cx="204.87" cy="225.31" r=".707" fill-opacity="0.77" stroke-opacity="0.77"/><circle cx="183.77" cy="258.44" r=".707" fill-opacity="0.77" stroke-opacity="0.77"/><circle cx="198.91" cy="126.08" r=".707" fill-opacity="0.77" stroke-opacity="0.77"/><circle cx="138.06" cy="216.55" r=".707" fill-opacity="0.771" stroke-opacity="0.771"/><circle cx="170.98" cy="162.37" r=".707" fill-opacity="0.771" stroke-opacity="0.771"/><circle cx="211.70" cy="220.80" r=".707" fill-opacity="0.771" stroke-opacity="0.771"/><circle cx="216.70" cy="203.39" r=".707" fill-opacity="0.771" stroke-opacity="0.771"/><circle cx="118.45" cy="124.07" r=".707" fill-opacity="0.772" stroke-opacity="0.772"/><circle cx="70.70" cy="148.97" r=".707" fill-opacity="0.773" stroke-opacity="0.773"/><circle cx="181.28" cy="264.75" r=".707" fill-opacity="0.774" stroke-opacity="0.774"/><circle cx="93.63" cy="128.70" r=".707" fill-opacity="0.774" stroke-opacity="0.774"/><circle cx="231.05" cy="171.61" r=".707" fill-opacity="0.775" stroke-opacity="0.775"/><circle cx="213.76" cy="151.25" r=".707" fill-opacity="0.776" stroke-opacity="0.776"/><circle cx="213.09" cy="173.55" r=".707" fill-opacity="0.776" stroke-opacity="0.776"/><circle cx="187.63" cy="201.41" r=".707" fill-opacity="0.777" stroke-opacity="0.777"/><circle cx="172.15" cy="194.86" r=".707" fill-opacity="0.777" stroke-opacity="0.777"/><circle cx="226.10" cy="187.25" r=".707" fill-opacity="0.778" stroke-opacity="0.778"/><circle cx="218.60" cy="213.18" r=".707" fill-opacity="0.778" stroke-opacity="0.778"/><circle cx="163.98" cy="241.77" r=".707" fill-opacity="0.779" stroke-opacity="0.779"/><circle cx="146.84" cy="141.08" r=".707" fill-opacity="0.779" stroke-opacity="0.779"/><circle cx="142.33" cy="216.53" r=".707" fill-opacity="0.78" stroke-opacity="0.78"/><circle cx="216.31" cy="140.02" r=".707" fill-opacity="0.78" stroke-opacity="0.78"/><circle cx="177.82" cy="153.30" r=".707" fill-opacity="0.78" stroke-opacity="0.78"/><circle cx="169.65" cy="201.57" r=".707" fill-opacity="0.78" stroke-opacity="0.78"/><circle cx="108.33" cy="152.99" r=".707" fill-opacity="0.782" stroke-opacity="0.782"/><circle cx="138.65" cy="187.10" r=".707" fill-opacity="0.783" stroke-opacity="0.783"/><circle cx="94.64" cy="159.35" r=".707" fill-opacity="0.784" stroke-opacity="0.784"/><circle cx="185.65" cy="264.40" r=".707" fill-opacity="0.784" stroke-opacity="0.784"/><circle cx="166.48" cy="229.74" r=".707" fill-opacity="0.785" stroke-opacity="0.785"/><circle cx="157.81" cy="219.54" r=".707" fill-opacity="0.786" stroke-opacity="0.786"/><circle cx="152.98" cy="156.13" r=".707" fill-opacity="0.786" stroke-opacity="0.786"/><circle cx="68.58" cy="127.82" r=".707" fill-opacity="0.786" stroke-opacity="0.786"/><circle cx="203.86" cy="179.81" r=".707" fill-opacity="0.786" stroke-opacity="0.786"/><circle cx="66.05" cy="135.87" r=".707" fill-opacity="0.787" stroke-opacity="0.787"/><circle cx="201.36" cy="187.87" r=".707" fill-opacity="0.787" stroke-opacity="0.787"/><circle cx="101.41" cy="153.43" r=".707" fill-opacity="0.787" stroke-opacity="0.787"/><circle cx="149.80" cy="185.64" r=".707" fill-opacity="0.788" stroke-opacity="0.788"/><circle cx="156.63" cy="180.20" r=".707" fill-opacity="0.791" stroke-opacity="0.791"/><circle cx="168.49" cy="159.06" r=".707" fill-opacity="0.792" stroke-opacity="0.792"/><circle cx="139.75" cy="217.93" r=".707" fill-opacity="0.793" stroke-opacity="0.793"/><circle cx="173.33" cy="221.67" r=".707" fill-opacity="0.793" stroke-opacity="0.793"/><circle cx="178.84" cy="262.36" r=".707" fill-opacity="0.794" stroke-opacity="0.794"/><circle cx="162.13" cy="219.09" r=".707" fill-opacity="0.795" stroke-opacity="0.795"/><circle cx="189.06" cy="145.85" r=".707" fill-opacity="0.795" stroke-opacity="0.795"/><circle cx="205.28" cy="129.58" r=".707" fill-opacity="0.796" stroke-opacity="0.796"/><circle cx="160.29" cy="204.32" r=".707" fill-opacity="0.797" stroke-opacity="0.797"/><circle cx="181.54" cy="170.53" r=".707" fill-opacity="0.798" stroke-opacity="0.798"/><circle cx="166.66" cy="141.53" r=".707" fill-opacity="0.798" stroke-opacity="0.798"/><circle cx="225.23" cy="138.29" r=".707" fill-opacity="0.8" stroke-opacity="0.8"/><circle cx="96.19" cy="163.19" r=".707" fill-opacity="0.8" stroke-opacity="0.8"/><circle cx="165.31" cy="184.55" r=".707" fill-opacity="0.801" stroke-opacity="0.801"/><circle cx="141.03" cy="167.26" r=".707" fill-opacity="0.803" stroke-opacity="0.803"/><circle cx="175.36" cy="148.56" r=".707" fill-opacity="0.803" stroke-opacity="0.803"/><circle cx="200.33" cy="141.58" r=".707" fill-opacity="0.805" stroke-opacity="0.805"/><circle cx="144.02" cy="215.69" r=".707" fill-opacity="0.805" stroke-opacity="0.805"/><circle cx="161.44" cy="235.74" r=".707" fill-opacity="0.805" stroke-opacity="0.805"/><circle cx="185.92" cy="170.42" r=".707" fill-opacity="0.806" stroke-opacity="0.806"/><circle cx="213.92" cy="213.74" r=".707" fill-opacity="0.808" stroke-opacity="0.808"/><circle cx="170.83" cy="221.75" r=".707" fill-opacity="0.808" stroke-opacity="0.808"/><circle cx="195.34" cy="155.93" r=".707" fill-opacity="0.81" stroke-opacity="0.81"/><circle cx="148.35" cy="217.02" r=".707" fill-opacity="0.812" stroke-opacity="0.812"/><circle cx="193.51" cy="140.63" r=".707" fill-opacity="0.813" stroke-opacity="0.813"/><circle cx="151.54" cy="185.06" r=".707" fill-opacity="0.813" stroke-opacity="0.813"/><circle cx="205.93" cy="177.84" r=".707" fill-opacity="0.813" stroke-opacity="0.813"/><circle cx="89.76" cy="136.57" r=".707" fill-opacity="0.814" stroke-opacity="0.814"/><circle cx="132.21" cy="149.21" r=".707" fill-opacity="0.816" stroke-opacity="0.816"/><circle cx="191.52" cy="204.50" r=".707" fill-opacity="0.819" stroke-opacity="0.819"/><circle cx="177.73" cy="211.83" r=".707" fill-opacity="0.819" stroke-opacity="0.819"/><circle cx="109.65" cy="144.41" r=".707" fill-opacity="0.82" stroke-opacity="0.82"/><circle cx="211.72" cy="133.59" r=".707" fill-opacity="0.821" stroke-opacity="0.821"/><circle cx="107.09" cy="151.60" r=".707" fill-opacity="0.823" stroke-opacity="0.823"/><circle cx="201.46" cy="248.59" r=".707" fill-opacity="0.823" stroke-opacity="0.823"/><circle cx="127.78" cy="140.15" r=".707" fill-opacity="0.823" stroke-opacity="0.823"/><circle cx="82.68" cy="134.68" r=".707" fill-opacity="0.823" stroke-opacity="0.823"/><circle cx="113.29" cy="169.57" r=".707" fill-opacity="0.824" stroke-opacity="0.824"/><circle cx="160.92" cy="165.53" r=".707" fill-opacity="0.825" stroke-opacity="0.825"/><circle cx="193.41" cy="214.41" r=".707" fill-opacity="0.826" stroke-opacity="0.826"/><circle cx="187.18" cy="195.52" r=".707" fill-opacity="0.826" stroke-opacity="0.826"/><circle cx="215.49" cy="157.37" r=".707" fill-opacity="0.827" stroke-opacity="0.827"/><circle cx="184.67" cy="202.30" r=".707" fill-opacity="0.829" stroke-opacity="0.829"/><circle cx="162.76" cy="176.76" r=".707" fill-opacity="0.83" stroke-opacity="0.83"/><circle cx="146.41" cy="192.70" r=".707" fill-opacity="0.83" stroke-opacity="0.83"/><circle cx="202.20" cy="221.57" r=".707" fill-opacity="0.831" stroke-opacity="0.831"/><circle cx="148.94" cy="183.19" r=".707" fill-opacity="0.832" stroke-opacity="0.832"/><circle cx="203.56" cy="175.94" r=".707" fill-opacity="0.832" stroke-opacity="0.832"/><circle cx="172.70" cy="221.83" r=".707" fill-opacity="0.832" stroke-opacity="0.832"/><circle cx="206.78" cy="144.29" r=".707" fill-opacity="0.832" stroke-opacity="0.832"/><circle cx="177.09" cy="225.42" r=".707" fill-opacity="0.835" stroke-opacity="0.835"/><circle cx="225.04" cy="139.55" r=".707" fill-opacity="0.836" stroke-opacity="0.836"/><circle cx="196.02" cy="198.13" r=".707" fill-opacity="0.839" stroke-opacity="0.839"/><circle cx="229.48" cy="142.62" r=".707" fill-opacity="0.84" stroke-opacity="0.84"/><circle cx="122.54" cy="147.16" r=".707" fill-opacity="0.841" stroke-opacity="0.841"/><circle cx="145.18" cy="149.21" r=".707" fill-opacity="0.842" stroke-opacity="0.842"/><circle cx="152.60" cy="204.39" r=".707" fill-opacity="0.843" stroke-opacity="0.843"/><circle cx="147.70" cy="139.20" r=".707" fill-opacity="0.845" stroke-opacity="0.845"/><circle cx="164.60" cy="182.08" r=".707" fill-opacity="0.845" stroke-opacity="0.845"/><circle cx="192.35" cy="166.43" r=".707" fill-opacity="0.846" stroke-opacity="0.846"/><circle cx="199.29" cy="162.28" r=".707" fill-opacity="0.847" stroke-opacity="0.847"/><circle cx="167.82" cy="148.95" r=".707" fill-opacity="0.848" stroke-opacity="0.848"/><circle cx="178.48" cy="172.88" r=".707" fill-opacity="0.848" stroke-opacity="0.848"/><circle cx="150.70" cy="183.51" r=".707" fill-opacity="0.855" stroke-opacity="0.855"/><circle cx="220.21" cy="145.65" r=".707" fill-opacity="0.856" stroke-opacity="0.856"/><circle cx="124.18" cy="148.68" r=".707" fill-opacity="0.863" stroke-opacity="0.863"/><circle cx="179.70" cy="200.51" r=".707" fill-opacity="0.864" stroke-opacity="0.864"/><circle cx="199.93" cy="210.80" r=".707" fill-opacity="0.866" stroke-opacity="0.866"/><circle cx="195.53" cy="203.55" r=".707" fill-opacity="0.87" stroke-opacity="0.87"/><circle cx="159.48" cy="185.19" r=".707" fill-opacity="0.87" stroke-opacity="0.87"/><circle cx="180.41" cy="172.68" r=".707" fill-opacity="0.872" stroke-opacity="0.872"/><circle cx="135.47" cy="142.95" r=".707" fill-opacity="0.875" stroke-opacity="0.875"/><circle cx="210.90" cy="147.30" r=".707" fill-opacity="0.875" stroke-opacity="0.875"/><circle cx="198.83" cy="167.00" r=".707" fill-opacity="0.878" stroke-opacity="0.878"/><circle cx="185.55" cy="151.13" r=".707" fill-opacity="0.879" stroke-opacity="0.879"/><circle cx="134.75" cy="162.98" r=".707" fill-opacity="0.88" stroke-opacity="0.88"/><circle cx="144.29" cy="150.10" r=".707" fill-opacity="0.88" stroke-opacity="0.88"/><circle cx="176.01" cy="160.28" r=".707" fill-opacity="0.885" stroke-opacity="0.885"/><circle cx="183.01" cy="156.10" r=".707" fill-opacity="0.886" stroke-opacity="0.886"/><circle cx="204.52" cy="204.39" r=".707" fill-opacity="0.886" stroke-opacity="0.886"/><circle cx="175.33" cy="182.23" r=".707" fill-opacity="0.887" stroke-opacity="0.887"/><circle cx="155.70" cy="147.63" r=".707" fill-opacity="0.887" stroke-opacity="0.887"/><circle cx="207.86" cy="166.76" r=".707" fill-opacity="0.897" stroke-opacity="0.897"/><circle cx="171.59" cy="147.34" r=".707" fill-opacity="0.899" stroke-opacity="0.899"/><circle cx="199.49" cy="214.52" r=".707" fill-opacity="0.9" stroke-opacity="0.9"/><circle cx="194.55" cy="148.48" r=".707" fill-opacity="0.902" stroke-opacity="0.902"/><circle cx="169.02" cy="150.45" r=".707" fill-opacity="0.909" stroke-opacity="0.909"/><circle cx="200.94" cy="163.03" r=".707" fill-opacity="0.91" stroke-opacity="0.91"/><circle cx="198.37" cy="171.32" r=".707" fill-opacity="0.911" stroke-opacity="0.911"/><circle cx="168.33" cy="172.04" r=".707" fill-opacity="0.911" stroke-opacity="0.911"/><circle cx="156.82" cy="170.30" r=".707" fill-opacity="0.912" stroke-opacity="0.912"/><circle cx="182.41" cy="164.09" r=".707" fill-opacity="0.912" stroke-opacity="0.912"/><circle cx="203.55" cy="151.93" r=".707" fill-opacity="0.914" stroke-opacity="0.914"/><circle cx="195.18" cy="197.09" r=".707" fill-opacity="0.922" stroke-opacity="0.922"/><circle cx="190.73" cy="189.27" r=".707" fill-opacity="0.927" stroke-opacity="0.927"/><circle cx="197.89" cy="177.12" r=".707" fill-opacity="0.942" stroke-opacity="0.942"/><circle cx="193.42" cy="170.19" r=".707" fill-opacity="0.945" stroke-opacity="0.945"/><circle cx="174.73" cy="172.20" r=".707" fill-opacity="0.945" stroke-opacity="0.945"/><circle cx="165.74" cy="159.72" r=".707" fill-opacity="0.949" stroke-opacity="0.949"/><circle cx="188.25" cy="185.04" r=".707" fill-opacity="0.95" stroke-opacity="0.95"/><circle cx="183.81" cy="170.09" r=".707" fill-opacity="0.968" stroke-opacity="0.968"/><circle cx="192.96" cy="169.39" r=".707" fill-opacity="0.988" stroke-opacity="0.988"/><circle cx="197.59" cy="167.84" r=".707" /></g><g id="text_17"><text style="font-size: 12px; font-family: 'DejaVu Sans', 'Liberation Sans', sans-serif" transform="translate(114.749 22.034)">Landscape 9999</text><text style="font-size: 12px; font-family: 'DejaVu Sans', 'Liberation Sans', sans-serif" transform="translate(90.029 35.472)">Steps 1-4: Seed tile data</text></g></g></g></svg> 
</body></html>
